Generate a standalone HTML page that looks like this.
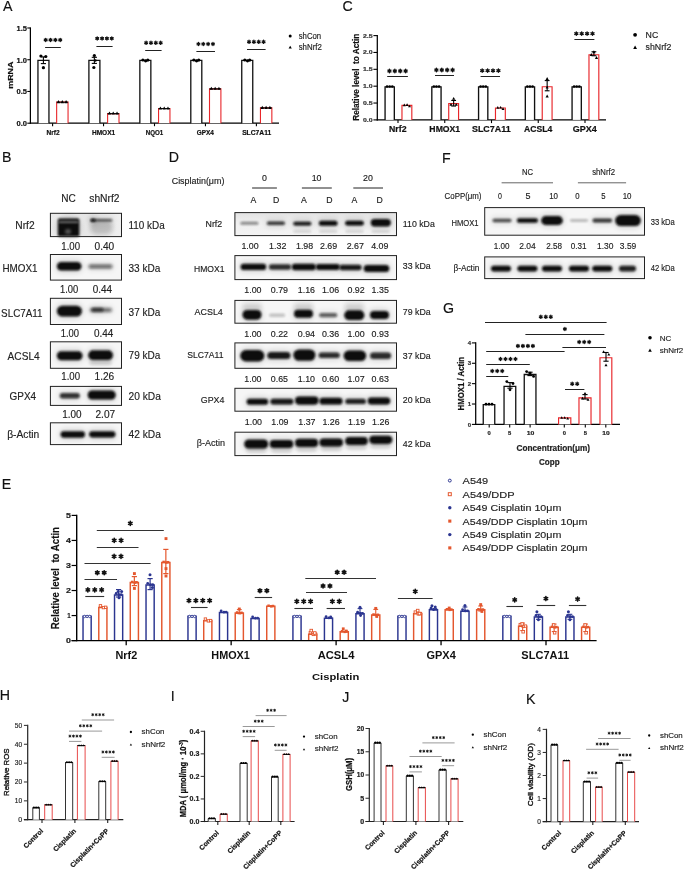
<!DOCTYPE html>
<html><head><meta charset="utf-8"><title>Figure</title>
<style>
html,body{margin:0;padding:0;background:#fff;}
body{width:685px;height:870px;overflow:hidden;}
svg text{white-space:pre;}
svg{display:block;will-change:transform;font-family:"Liberation Sans", sans-serif;}
</style></head><body>
<svg width="685" height="870" viewBox="0 0 685 870">
<defs>
<filter id="bl0_8" x="-30%" y="-80%" width="160%" height="260%"><feGaussianBlur stdDeviation="0.8"/></filter>
<filter id="bl0_9" x="-30%" y="-80%" width="160%" height="260%"><feGaussianBlur stdDeviation="0.9"/></filter>
<filter id="bl1_0" x="-30%" y="-80%" width="160%" height="260%"><feGaussianBlur stdDeviation="1.0"/></filter>
<filter id="bl1_2" x="-30%" y="-80%" width="160%" height="260%"><feGaussianBlur stdDeviation="1.2"/></filter>
<filter id="bl1_5" x="-30%" y="-80%" width="160%" height="260%"><feGaussianBlur stdDeviation="1.5"/></filter>
<filter id="bl1_1" x="-30%" y="-80%" width="160%" height="260%"><feGaussianBlur stdDeviation="1.1"/></filter>
<filter id="bl1_3" x="-30%" y="-80%" width="160%" height="260%"><feGaussianBlur stdDeviation="1.3"/></filter>
<filter id="bl1_4" x="-30%" y="-80%" width="160%" height="260%"><feGaussianBlur stdDeviation="1.4"/></filter>
<linearGradient id="gNrf" x1="0" y1="0" x2="0" y2="1"><stop offset="0" stop-color="#e2e2e2"/><stop offset="0.45" stop-color="#efefef"/><stop offset="1" stop-color="#f3f3f3"/></linearGradient>
<linearGradient id="gNrfB" x1="0" y1="0" x2="1" y2="0"><stop offset="0" stop-color="#ebebeb"/><stop offset="0.5" stop-color="#e6e6e6"/><stop offset="1" stop-color="#efefef"/></linearGradient>
<filter id="bl2_5" x="-50%" y="-100%" width="200%" height="300%"><feGaussianBlur stdDeviation="2.5"/></filter>
<filter id="bl2_0" x="-30%" y="-80%" width="160%" height="260%"><feGaussianBlur stdDeviation="2.0"/></filter>
</defs>
<rect width="685" height="870" fill="#fff"/>
<text x="3.1" y="10.7" font-size="14.2" fill="#111" stroke="#111" stroke-width="0.15">A</text>
<line x1="30.4" y1="27.4" x2="30.4" y2="123.8" stroke="#000" stroke-width="1.25"/>
<line x1="27.3" y1="123.2" x2="30.4" y2="123.2" stroke="#000" stroke-width="1.1"/>
<text x="16.52" y="126.1" font-size="7.8" font-weight="bold" fill="#111" textLength="10.46" lengthAdjust="spacingAndGlyphs" stroke="#111" stroke-width="0.2">0.0</text>
<line x1="27.3" y1="91.47" x2="30.4" y2="91.47" stroke="#000" stroke-width="1.1"/>
<text x="16.52" y="94.37" font-size="7.8" font-weight="bold" fill="#111" textLength="10.46" lengthAdjust="spacingAndGlyphs" stroke="#111" stroke-width="0.2">0.5</text>
<line x1="27.3" y1="59.73" x2="30.4" y2="59.73" stroke="#000" stroke-width="1.1"/>
<text x="16.52" y="62.63" font-size="7.8" font-weight="bold" fill="#111" textLength="10.46" lengthAdjust="spacingAndGlyphs" stroke="#111" stroke-width="0.2">1.0</text>
<line x1="27.3" y1="28" x2="30.4" y2="28" stroke="#000" stroke-width="1.1"/>
<text x="16.52" y="30.9" font-size="7.8" font-weight="bold" fill="#111" textLength="10.46" lengthAdjust="spacingAndGlyphs" stroke="#111" stroke-width="0.2">1.5</text>
<text x="13.4" y="75.15" font-size="7.7" font-weight="bold" text-anchor="middle" fill="#111" transform="rotate(-90 13.4 75.15)" textLength="27.3" lengthAdjust="spacingAndGlyphs" stroke="#111" stroke-width="0.2">mRNA</text>
<line x1="29.8" y1="123.2" x2="279" y2="123.2" stroke="#000" stroke-width="1.25"/>
<path d="M37.95 123.2V60.38H48.95V123.2" fill="#fff" stroke="#111" stroke-width="1.3"/>
<path d="M56.65 123.2V102.17H68.05V123.2" fill="#fff" stroke="#e8262a" stroke-width="1.1"/>
<line x1="56.6" y1="102.17" x2="68.1" y2="102.17" stroke="#111" stroke-width="1.1"/>
<line x1="52.6" y1="123.2" x2="52.6" y2="126.2" stroke="#000" stroke-width="1.1"/>
<text x="46.45" y="135.4" font-size="7" font-weight="bold" fill="#111" textLength="13.1" lengthAdjust="spacingAndGlyphs" stroke="#111" stroke-width="0.2">Nrf2</text>
<line x1="45.1" y1="47.5" x2="60.8" y2="47.5" stroke="#222" stroke-width="1"/>
<path d="M45.68 38.31L45.68 41.49M47.05 39.11L44.3 40.69M47.05 40.69L44.3 39.11" stroke="#111" stroke-width="1.31" stroke-linecap="round"/>
<path d="M50.53 38.31L50.53 41.49M51.9 39.11L49.15 40.69M51.9 40.69L49.15 39.11" stroke="#111" stroke-width="1.31" stroke-linecap="round"/>
<path d="M55.38 38.31L55.38 41.49M56.75 39.11L54 40.69M56.75 40.69L54 39.11" stroke="#111" stroke-width="1.31" stroke-linecap="round"/>
<path d="M60.23 38.31L60.23 41.49M61.6 39.11L58.85 40.69M61.6 40.69L58.85 39.11" stroke="#111" stroke-width="1.31" stroke-linecap="round"/>
<circle cx="40.9" cy="56" r="1.6" fill="#000"/>
<circle cx="45.8" cy="56.5" r="1.6" fill="#000"/>
<circle cx="43.4" cy="67.7" r="1.6" fill="#000"/>
<line x1="43.4" y1="56.9" x2="43.4" y2="63.6" stroke="#000" stroke-width="1.1"/>
<line x1="40.8" y1="56.9" x2="46" y2="56.9" stroke="#000" stroke-width="1.1"/>
<line x1="40.8" y1="63.6" x2="46" y2="63.6" stroke="#000" stroke-width="1.1"/>
<path d="M58.5 100.12L60.2 103.18L56.8 103.18Z" fill="#000"/>
<path d="M62.3 100.12L64 103.18L60.6 103.18Z" fill="#000"/>
<path d="M66.1 100.12L67.8 103.18L64.4 103.18Z" fill="#000"/>
<path d="M88.9 123.2V60.38H99.9V123.2" fill="#fff" stroke="#111" stroke-width="1.3"/>
<path d="M107.6 123.2V113.6H119V123.2" fill="#fff" stroke="#e8262a" stroke-width="1.1"/>
<line x1="107.55" y1="113.6" x2="119.05" y2="113.6" stroke="#111" stroke-width="1.1"/>
<line x1="103.55" y1="123.2" x2="103.55" y2="126.2" stroke="#000" stroke-width="1.1"/>
<text x="91.95" y="135.4" font-size="7" font-weight="bold" fill="#111" textLength="23.3" lengthAdjust="spacingAndGlyphs" stroke="#111" stroke-width="0.2">HMOX1</text>
<line x1="96.4" y1="46.5" x2="112.6" y2="46.5" stroke="#222" stroke-width="1"/>
<path d="M97.22 36.81L97.22 39.99M98.6 37.61L95.85 39.19M98.6 39.19L95.85 37.61" stroke="#111" stroke-width="1.31" stroke-linecap="round"/>
<path d="M102.07 36.81L102.07 39.99M103.45 37.61L100.7 39.19M103.45 39.19L100.7 37.61" stroke="#111" stroke-width="1.31" stroke-linecap="round"/>
<path d="M106.92 36.81L106.92 39.99M108.3 37.61L105.55 39.19M108.3 39.19L105.55 37.61" stroke="#111" stroke-width="1.31" stroke-linecap="round"/>
<path d="M111.77 36.81L111.77 39.99M113.15 37.61L110.4 39.19M113.15 39.19L110.4 37.61" stroke="#111" stroke-width="1.31" stroke-linecap="round"/>
<circle cx="94.35" cy="55.5" r="1.6" fill="#000"/>
<circle cx="93.85" cy="67.5" r="1.6" fill="#000"/>
<circle cx="95.35" cy="60.5" r="1.3" fill="#000"/>
<line x1="94.35" y1="57.3" x2="94.35" y2="63.4" stroke="#000" stroke-width="1.1"/>
<line x1="91.75" y1="57.3" x2="96.95" y2="57.3" stroke="#000" stroke-width="1.1"/>
<line x1="91.75" y1="63.4" x2="96.95" y2="63.4" stroke="#000" stroke-width="1.1"/>
<path d="M109.45 111.55L111.15 114.61L107.75 114.61Z" fill="#000"/>
<path d="M113.25 111.55L114.95 114.61L111.55 114.61Z" fill="#000"/>
<path d="M117.05 111.55L118.75 114.61L115.35 114.61Z" fill="#000"/>
<path d="M139.85 123.2V60.38H150.85V123.2" fill="#fff" stroke="#111" stroke-width="1.3"/>
<path d="M158.55 123.2V108.52H169.95V123.2" fill="#fff" stroke="#e8262a" stroke-width="1.1"/>
<line x1="158.5" y1="108.52" x2="170" y2="108.52" stroke="#111" stroke-width="1.1"/>
<line x1="154.5" y1="123.2" x2="154.5" y2="126.2" stroke="#000" stroke-width="1.1"/>
<text x="145.75" y="135.4" font-size="7" font-weight="bold" fill="#111" textLength="17.5" lengthAdjust="spacingAndGlyphs" stroke="#111" stroke-width="0.2">NQO1</text>
<line x1="145.2" y1="50.5" x2="161.6" y2="50.5" stroke="#222" stroke-width="1"/>
<path d="M146.12 41.21L146.12 44.39M147.5 42.01L144.75 43.59M147.5 43.59L144.75 42.01" stroke="#111" stroke-width="1.31" stroke-linecap="round"/>
<path d="M150.97 41.21L150.97 44.39M152.35 42.01L149.6 43.59M152.35 43.59L149.6 42.01" stroke="#111" stroke-width="1.31" stroke-linecap="round"/>
<path d="M155.82 41.21L155.82 44.39M157.2 42.01L154.45 43.59M157.2 43.59L154.45 42.01" stroke="#111" stroke-width="1.31" stroke-linecap="round"/>
<path d="M160.67 41.21L160.67 44.39M162.05 42.01L159.3 43.59M162.05 43.59L159.3 42.01" stroke="#111" stroke-width="1.31" stroke-linecap="round"/>
<circle cx="142.9" cy="60" r="1.6" fill="#000"/>
<circle cx="145.6" cy="60.8" r="1.6" fill="#000"/>
<circle cx="147.8" cy="60.1" r="1.6" fill="#000"/>
<path d="M160.4 106.47L162.1 109.53L158.7 109.53Z" fill="#000"/>
<path d="M164.2 106.47L165.9 109.53L162.5 109.53Z" fill="#000"/>
<path d="M168 106.47L169.7 109.53L166.3 109.53Z" fill="#000"/>
<path d="M190.8 123.2V60.38H201.8V123.2" fill="#fff" stroke="#111" stroke-width="1.3"/>
<path d="M209.5 123.2V88.84H220.9V123.2" fill="#fff" stroke="#e8262a" stroke-width="1.1"/>
<line x1="209.45" y1="88.84" x2="220.95" y2="88.84" stroke="#111" stroke-width="1.1"/>
<line x1="205.45" y1="123.2" x2="205.45" y2="126.2" stroke="#000" stroke-width="1.1"/>
<text x="196.75" y="135.4" font-size="7" font-weight="bold" fill="#111" textLength="17.1" lengthAdjust="spacingAndGlyphs" stroke="#111" stroke-width="0.2">GPX4</text>
<line x1="196.4" y1="51.5" x2="215" y2="51.5" stroke="#222" stroke-width="1"/>
<path d="M198.42 42.41L198.42 45.59M199.8 43.21L197.05 44.79M199.8 44.79L197.05 43.21" stroke="#111" stroke-width="1.31" stroke-linecap="round"/>
<path d="M203.27 42.41L203.27 45.59M204.65 43.21L201.9 44.79M204.65 44.79L201.9 43.21" stroke="#111" stroke-width="1.31" stroke-linecap="round"/>
<path d="M208.12 42.41L208.12 45.59M209.5 43.21L206.75 44.79M209.5 44.79L206.75 43.21" stroke="#111" stroke-width="1.31" stroke-linecap="round"/>
<path d="M212.97 42.41L212.97 45.59M214.35 43.21L211.6 44.79M214.35 44.79L211.6 43.21" stroke="#111" stroke-width="1.31" stroke-linecap="round"/>
<circle cx="193.85" cy="60" r="1.6" fill="#000"/>
<circle cx="196.55" cy="60.8" r="1.6" fill="#000"/>
<circle cx="198.75" cy="60.1" r="1.6" fill="#000"/>
<path d="M211.35 86.79L213.05 89.85L209.65 89.85Z" fill="#000"/>
<path d="M215.15 86.79L216.85 89.85L213.45 89.85Z" fill="#000"/>
<path d="M218.95 86.79L220.65 89.85L217.25 89.85Z" fill="#000"/>
<path d="M241.75 123.2V60.38H252.75V123.2" fill="#fff" stroke="#111" stroke-width="1.3"/>
<path d="M260.45 123.2V107.88H271.85V123.2" fill="#fff" stroke="#e8262a" stroke-width="1.1"/>
<line x1="260.4" y1="107.88" x2="271.9" y2="107.88" stroke="#111" stroke-width="1.1"/>
<line x1="256.4" y1="123.2" x2="256.4" y2="126.2" stroke="#000" stroke-width="1.1"/>
<text x="242.15" y="135.4" font-size="7" font-weight="bold" fill="#111" textLength="29.1" lengthAdjust="spacingAndGlyphs" stroke="#111" stroke-width="0.2">SLC7A11</text>
<line x1="247" y1="49.5" x2="265.6" y2="49.5" stroke="#222" stroke-width="1"/>
<path d="M249.03 40.21L249.03 43.39M250.4 41.01L247.65 42.59M250.4 42.59L247.65 41.01" stroke="#111" stroke-width="1.31" stroke-linecap="round"/>
<path d="M253.88 40.21L253.88 43.39M255.25 41.01L252.5 42.59M255.25 42.59L252.5 41.01" stroke="#111" stroke-width="1.31" stroke-linecap="round"/>
<path d="M258.73 40.21L258.73 43.39M260.1 41.01L257.35 42.59M260.1 42.59L257.35 41.01" stroke="#111" stroke-width="1.31" stroke-linecap="round"/>
<path d="M263.57 40.21L263.57 43.39M264.95 41.01L262.2 42.59M264.95 42.59L262.2 41.01" stroke="#111" stroke-width="1.31" stroke-linecap="round"/>
<circle cx="244.8" cy="60" r="1.6" fill="#000"/>
<circle cx="247.5" cy="60.8" r="1.6" fill="#000"/>
<circle cx="249.7" cy="60.1" r="1.6" fill="#000"/>
<path d="M262.3 105.83L264 108.89L260.6 108.89Z" fill="#000"/>
<path d="M266.1 105.83L267.8 108.89L264.4 108.89Z" fill="#000"/>
<path d="M269.9 105.83L271.6 108.89L268.2 108.89Z" fill="#000"/>
<circle cx="290.2" cy="35.9" r="1.5" fill="#000"/>
<text x="298.7" y="39" font-size="8.2" fill="#222" textLength="22.49" lengthAdjust="spacingAndGlyphs" stroke="#222" stroke-width="0.15">shCon</text>
<path d="M290.2 45.7L291.8 48.58L288.6 48.58Z" fill="#000"/>
<text x="298.7" y="49.9" font-size="8.2" fill="#222" textLength="23.19" lengthAdjust="spacingAndGlyphs" stroke="#222" stroke-width="0.15">shNrf2</text>
<text x="342.4" y="11.3" font-size="14.2" fill="#111" stroke="#111" stroke-width="0.15">C</text>
<line x1="377.3" y1="35" x2="377.3" y2="120.5" stroke="#000" stroke-width="1.25"/>
<line x1="373.4" y1="119.9" x2="377.3" y2="119.9" stroke="#000" stroke-width="1.1"/>
<text x="362.99" y="121.8" font-size="5.8" font-weight="bold" fill="#333" textLength="9.62" lengthAdjust="spacingAndGlyphs" stroke="#333" stroke-width="0.2">0.0</text>
<line x1="373.4" y1="103.04" x2="377.3" y2="103.04" stroke="#000" stroke-width="1.1"/>
<text x="362.99" y="104.94" font-size="5.8" font-weight="bold" fill="#333" textLength="9.62" lengthAdjust="spacingAndGlyphs" stroke="#333" stroke-width="0.2">0.5</text>
<line x1="373.4" y1="86.18" x2="377.3" y2="86.18" stroke="#000" stroke-width="1.1"/>
<text x="362.99" y="88.08" font-size="5.8" font-weight="bold" fill="#333" textLength="9.62" lengthAdjust="spacingAndGlyphs" stroke="#333" stroke-width="0.2">1.0</text>
<line x1="373.4" y1="69.32" x2="377.3" y2="69.32" stroke="#000" stroke-width="1.1"/>
<text x="362.99" y="71.22" font-size="5.8" font-weight="bold" fill="#333" textLength="9.62" lengthAdjust="spacingAndGlyphs" stroke="#333" stroke-width="0.2">1.5</text>
<line x1="373.4" y1="52.46" x2="377.3" y2="52.46" stroke="#000" stroke-width="1.1"/>
<text x="362.99" y="54.36" font-size="5.8" font-weight="bold" fill="#333" textLength="9.62" lengthAdjust="spacingAndGlyphs" stroke="#333" stroke-width="0.2">2.0</text>
<line x1="373.4" y1="35.6" x2="377.3" y2="35.6" stroke="#000" stroke-width="1.1"/>
<text x="362.99" y="37.5" font-size="5.8" font-weight="bold" fill="#333" textLength="9.62" lengthAdjust="spacingAndGlyphs" stroke="#333" stroke-width="0.2">2.5</text>
<text x="358.8" y="77.2" font-size="9.4" font-weight="bold" text-anchor="middle" fill="#111" transform="rotate(-90 358.8 77.2)" textLength="87.2" lengthAdjust="spacingAndGlyphs" stroke="#111" stroke-width="0.2">Relative level  to Actin</text>
<line x1="376.7" y1="119.9" x2="606" y2="119.9" stroke="#000" stroke-width="1.25"/>
<path d="M385.07 119.9V86.86H394.32V119.9" fill="#fff" stroke="#111" stroke-width="1.35"/>
<path d="M401.97 119.9V105.3H411.82V119.9" fill="#fff" stroke="#e8262a" stroke-width="1.15"/>
<line x1="398" y1="119.9" x2="398" y2="123.1" stroke="#000" stroke-width="1.1"/>
<text x="389.09" y="132.4" font-size="8.5" font-weight="bold" fill="#111" textLength="17.41" lengthAdjust="spacingAndGlyphs" stroke="#111" stroke-width="0.2">Nrf2</text>
<line x1="387.2" y1="76.5" x2="407.9" y2="76.5" stroke="#222" stroke-width="1"/>
<path d="M389.45 69.28L389.45 72.72M390.94 70.14L387.96 71.86M390.94 71.86L387.96 70.14" stroke="#111" stroke-width="1.42" stroke-linecap="round"/>
<path d="M394.85 69.28L394.85 72.72M396.34 70.14L393.36 71.86M396.34 71.86L393.36 70.14" stroke="#111" stroke-width="1.42" stroke-linecap="round"/>
<path d="M400.25 69.28L400.25 72.72M401.74 70.14L398.76 71.86M401.74 71.86L398.76 70.14" stroke="#111" stroke-width="1.42" stroke-linecap="round"/>
<path d="M405.65 69.28L405.65 72.72M407.14 70.14L404.16 71.86M407.14 71.86L404.16 70.14" stroke="#111" stroke-width="1.42" stroke-linecap="round"/>
<circle cx="387.1" cy="86.48" r="1.35" fill="#000"/>
<circle cx="389.7" cy="86.48" r="1.35" fill="#000"/>
<circle cx="392.3" cy="86.48" r="1.35" fill="#000"/>
<path d="M404.3 103.43L405.8 106.13L402.8 106.13Z" fill="#000"/>
<path d="M407.1 103.23L408.6 105.93L405.6 105.93Z" fill="#000"/>
<path d="M409.5 104.63L411 107.33L408 107.33Z" fill="#000"/>
<path d="M431.82 119.9V86.86H441.07V119.9" fill="#fff" stroke="#111" stroke-width="1.35"/>
<path d="M448.72 119.9V103.62H458.57V119.9" fill="#fff" stroke="#e8262a" stroke-width="1.15"/>
<line x1="444.75" y1="119.9" x2="444.75" y2="123.1" stroke="#000" stroke-width="1.1"/>
<text x="429.39" y="132.4" font-size="8.5" font-weight="bold" fill="#111" textLength="30.81" lengthAdjust="spacingAndGlyphs" stroke="#111" stroke-width="0.2">HMOX1</text>
<line x1="435" y1="75.5" x2="454" y2="75.5" stroke="#222" stroke-width="1"/>
<path d="M436.4 68.28L436.4 71.72M437.89 69.14L434.91 70.86M437.89 70.86L434.91 69.14" stroke="#111" stroke-width="1.42" stroke-linecap="round"/>
<path d="M441.8 68.28L441.8 71.72M443.29 69.14L440.31 70.86M443.29 70.86L440.31 69.14" stroke="#111" stroke-width="1.42" stroke-linecap="round"/>
<path d="M447.2 68.28L447.2 71.72M448.69 69.14L445.71 70.86M448.69 70.86L445.71 69.14" stroke="#111" stroke-width="1.42" stroke-linecap="round"/>
<path d="M452.6 68.28L452.6 71.72M454.09 69.14L451.11 70.86M454.09 70.86L451.11 69.14" stroke="#111" stroke-width="1.42" stroke-linecap="round"/>
<circle cx="433.85" cy="86.48" r="1.35" fill="#000"/>
<circle cx="436.45" cy="86.48" r="1.35" fill="#000"/>
<circle cx="439.05" cy="86.48" r="1.35" fill="#000"/>
<path d="M453.65 96.94L455.25 99.82L452.05 99.82Z" fill="#000"/>
<path d="M451.05 102.94L452.65 105.82L449.45 105.82Z" fill="#000"/>
<path d="M456.25 102.94L457.85 105.82L454.65 105.82Z" fill="#000"/>
<line x1="453.65" y1="100.44" x2="453.65" y2="106.04" stroke="#000" stroke-width="1.1"/>
<line x1="451.25" y1="100.44" x2="456.05" y2="100.44" stroke="#000" stroke-width="1.1"/>
<line x1="451.25" y1="106.04" x2="456.05" y2="106.04" stroke="#000" stroke-width="1.1"/>
<path d="M478.57 119.9V86.86H487.82V119.9" fill="#fff" stroke="#111" stroke-width="1.35"/>
<path d="M495.47 119.9V108H505.32V119.9" fill="#fff" stroke="#e8262a" stroke-width="1.15"/>
<line x1="491.5" y1="119.9" x2="491.5" y2="123.1" stroke="#000" stroke-width="1.1"/>
<text x="471.99" y="132.4" font-size="8.5" font-weight="bold" fill="#111" textLength="38.61" lengthAdjust="spacingAndGlyphs" stroke="#111" stroke-width="0.2">SLC7A11</text>
<line x1="480.6" y1="76.5" x2="500" y2="76.5" stroke="#222" stroke-width="1"/>
<path d="M482.2 68.88L482.2 72.32M483.69 69.74L480.71 71.46M483.69 71.46L480.71 69.74" stroke="#111" stroke-width="1.42" stroke-linecap="round"/>
<path d="M487.6 68.88L487.6 72.32M489.09 69.74L486.11 71.46M489.09 71.46L486.11 69.74" stroke="#111" stroke-width="1.42" stroke-linecap="round"/>
<path d="M493 68.88L493 72.32M494.49 69.74L491.51 71.46M494.49 71.46L491.51 69.74" stroke="#111" stroke-width="1.42" stroke-linecap="round"/>
<path d="M498.4 68.88L498.4 72.32M499.89 69.74L496.91 71.46M499.89 71.46L496.91 69.74" stroke="#111" stroke-width="1.42" stroke-linecap="round"/>
<circle cx="480.6" cy="86.48" r="1.35" fill="#000"/>
<circle cx="483.2" cy="86.48" r="1.35" fill="#000"/>
<circle cx="485.8" cy="86.48" r="1.35" fill="#000"/>
<path d="M497.8 106.12L499.3 108.82L496.3 108.82Z" fill="#000"/>
<path d="M500.6 105.92L502.1 108.62L499.1 108.62Z" fill="#000"/>
<path d="M503 107.32L504.5 110.02L501.5 110.02Z" fill="#000"/>
<path d="M525.32 119.9V86.86H534.58V119.9" fill="#fff" stroke="#111" stroke-width="1.35"/>
<path d="M542.23 119.9V86.76H552.07V119.9" fill="#fff" stroke="#e8262a" stroke-width="1.15"/>
<line x1="538.25" y1="119.9" x2="538.25" y2="123.1" stroke="#000" stroke-width="1.1"/>
<text x="524.09" y="132.4" font-size="8.5" font-weight="bold" fill="#111" textLength="28.11" lengthAdjust="spacingAndGlyphs" stroke="#111" stroke-width="0.2">ACSL4</text>
<circle cx="527.35" cy="86.48" r="1.35" fill="#000"/>
<circle cx="529.95" cy="86.48" r="1.35" fill="#000"/>
<circle cx="532.55" cy="86.48" r="1.35" fill="#000"/>
<path d="M547.15 77.08L548.75 79.96L545.55 79.96Z" fill="#000"/>
<path d="M547.15 94.58L548.75 97.46L545.55 97.46Z" fill="#000"/>
<path d="M547.15 85.68L548.65 88.38L545.65 88.38Z" fill="#000"/>
<line x1="547.15" y1="80.58" x2="547.15" y2="90.78" stroke="#000" stroke-width="1.1"/>
<line x1="544.75" y1="80.58" x2="549.55" y2="80.58" stroke="#000" stroke-width="1.1"/>
<line x1="544.75" y1="90.78" x2="549.55" y2="90.78" stroke="#000" stroke-width="1.1"/>
<path d="M572.07 119.9V86.86H581.33V119.9" fill="#fff" stroke="#111" stroke-width="1.35"/>
<path d="M588.98 119.9V54.72H598.82V119.9" fill="#fff" stroke="#e8262a" stroke-width="1.15"/>
<line x1="585" y1="119.9" x2="585" y2="123.1" stroke="#000" stroke-width="1.1"/>
<text x="572.79" y="132.4" font-size="8.5" font-weight="bold" fill="#111" textLength="24.11" lengthAdjust="spacingAndGlyphs" stroke="#111" stroke-width="0.2">GPX4</text>
<line x1="574.4" y1="39.5" x2="594.4" y2="39.5" stroke="#222" stroke-width="1"/>
<path d="M576.3 31.88L576.3 35.32M577.79 32.74L574.81 34.46M577.79 34.46L574.81 32.74" stroke="#111" stroke-width="1.42" stroke-linecap="round"/>
<path d="M581.7 31.88L581.7 35.32M583.19 32.74L580.21 34.46M583.19 34.46L580.21 32.74" stroke="#111" stroke-width="1.42" stroke-linecap="round"/>
<path d="M587.1 31.88L587.1 35.32M588.59 32.74L585.61 34.46M588.59 34.46L585.61 32.74" stroke="#111" stroke-width="1.42" stroke-linecap="round"/>
<path d="M592.5 31.88L592.5 35.32M593.99 32.74L591.01 34.46M593.99 34.46L591.01 32.74" stroke="#111" stroke-width="1.42" stroke-linecap="round"/>
<circle cx="574.1" cy="86.48" r="1.35" fill="#000"/>
<circle cx="576.7" cy="86.48" r="1.35" fill="#000"/>
<circle cx="579.3" cy="86.48" r="1.35" fill="#000"/>
<path d="M591.3 53.05L592.9 55.93L589.7 55.93Z" fill="#000"/>
<path d="M596.5 56.05L598.1 58.93L594.9 58.93Z" fill="#000"/>
<path d="M593.9 50.35L595.5 53.23L592.3 53.23Z" fill="#000"/>
<line x1="593.9" y1="51.75" x2="593.9" y2="55.75" stroke="#000" stroke-width="1.1"/>
<line x1="591.5" y1="51.75" x2="596.3" y2="51.75" stroke="#000" stroke-width="1.1"/>
<line x1="591.5" y1="55.75" x2="596.3" y2="55.75" stroke="#000" stroke-width="1.1"/>
<circle cx="635.1" cy="34.8" r="1.9" fill="#000"/>
<text x="645.6" y="37.7" font-size="8.3" fill="#222" textLength="12.6" lengthAdjust="spacingAndGlyphs" stroke="#222" stroke-width="0.15">NC</text>
<path d="M635.1 45.6L637 49.02L633.2 49.02Z" fill="#000"/>
<text x="645.59" y="49.9" font-size="8.5" fill="#222" textLength="25.81" lengthAdjust="spacingAndGlyphs" stroke="#222" stroke-width="0.15">shNrf2</text>
<text x="2" y="161.9" font-size="14.2" fill="#111" stroke="#111" stroke-width="0.15">B</text>
<text x="61.34" y="202.3" font-size="10" fill="#222" textLength="14.52" lengthAdjust="spacingAndGlyphs" stroke="#222" stroke-width="0.15">NC</text>
<text x="89.24" y="202.3" font-size="10" fill="#222" textLength="30.32" lengthAdjust="spacingAndGlyphs" stroke="#222" stroke-width="0.15">shNrf2</text>
<rect x="50.4" y="213.3" width="71.1" height="23.3" fill="url(#gNrfB)" stroke="none" stroke-width="1"/>
<rect x="55.85" y="215.4" width="25.5" height="24" rx="12" fill="#000" opacity="0.1" filter="url(#bl2_5)"/>
<rect x="57.85" y="218.4" width="21.5" height="18" rx="1.5" fill="#0a0a0a" opacity="1" filter="url(#bl1_0)"/>
<rect x="58.6" y="221.3" width="20" height="1.8" rx="0.9" fill="#fff" opacity="0.45" filter="url(#bl0_8)"/>
<rect x="65" y="229" width="6" height="5" rx="2.5" fill="#fff" opacity="0.3" filter="url(#bl1_5)"/>
<rect x="88.75" y="215.9" width="25.5" height="8.6" rx="4.3" fill="#000" opacity="0.07" filter="url(#bl2_5)"/>
<rect x="90.75" y="218.9" width="21.5" height="2.6" rx="1.3" fill="#0a0a0a" opacity="0.65" filter="url(#bl0_9)"/>
<rect x="88.5" y="215.7" width="9" height="9" rx="4.5" fill="#000" opacity="0.09" filter="url(#bl2_5)"/>
<rect x="90.5" y="218.7" width="5" height="3" rx="1.5" fill="#0a0a0a" opacity="0.9" filter="url(#bl0_8)"/>
<rect x="90" y="220.5" width="23" height="14" rx="7" fill="#0a0a0a" opacity="0.2" filter="url(#bl2_0)"/>
<rect x="50.4" y="213.3" width="71.1" height="23.3" fill="none" stroke="#222" stroke-width="1"/>
<text x="15.3" y="229.3" font-size="11" fill="#222" textLength="19.29" lengthAdjust="spacingAndGlyphs" stroke="#222" stroke-width="0.15">Nrf2</text>
<text x="128.5" y="228.8" font-size="11" fill="#222" textLength="36.19" lengthAdjust="spacingAndGlyphs" stroke="#222" stroke-width="0.15">110 kDa</text>
<text x="61.33" y="249.8" font-size="10.4" fill="#222" textLength="18.75" lengthAdjust="spacingAndGlyphs" stroke="#222" stroke-width="0.15">1.00</text>
<text x="94.53" y="249.8" font-size="10.4" fill="#222" textLength="19.75" lengthAdjust="spacingAndGlyphs" stroke="#222" stroke-width="0.15">0.40</text>
<rect x="50.4" y="254.5" width="71.1" height="25.6" fill="#f6f6f6" stroke="none" stroke-width="1"/>
<rect x="54.95" y="259" width="28.5" height="14.6" rx="7.3" fill="#000" opacity="0.1" filter="url(#bl2_5)"/>
<rect x="56.95" y="262" width="24.5" height="8.6" rx="4.3" fill="#0a0a0a" opacity="1" filter="url(#bl1_1)"/>
<rect x="86.5" y="261.6" width="28" height="10" rx="5" fill="#000" opacity="0.06" filter="url(#bl2_5)"/>
<rect x="88.5" y="264.6" width="24" height="4" rx="2" fill="#0a0a0a" opacity="0.6" filter="url(#bl1_4)"/>
<rect x="50.4" y="254.5" width="71.1" height="25.6" fill="none" stroke="#222" stroke-width="1"/>
<text x="2.5" y="271.8" font-size="11" fill="#222" textLength="35.09" lengthAdjust="spacingAndGlyphs" stroke="#222" stroke-width="0.15">HMOX1</text>
<text x="128.5" y="271.6" font-size="11" fill="#222" textLength="31.89" lengthAdjust="spacingAndGlyphs" stroke="#222" stroke-width="0.15">33 kDa</text>
<text x="59.93" y="292.6" font-size="10.4" fill="#222" textLength="18.25" lengthAdjust="spacingAndGlyphs" stroke="#222" stroke-width="0.15">1.00</text>
<text x="92.63" y="292.6" font-size="10.4" fill="#222" textLength="19.35" lengthAdjust="spacingAndGlyphs" stroke="#222" stroke-width="0.15">0.44</text>
<rect x="50.4" y="298.3" width="71.1" height="26.2" fill="#f6f6f6" stroke="none" stroke-width="1"/>
<rect x="54.9" y="302.7" width="29" height="16.8" rx="8.4" fill="#000" opacity="0.1" filter="url(#bl2_5)"/>
<rect x="56.9" y="305.7" width="25" height="10.8" rx="5.4" fill="#0a0a0a" opacity="1" filter="url(#bl1_1)"/>
<rect x="88" y="304.9" width="26" height="10.2" rx="5.1" fill="#000" opacity="0.06" filter="url(#bl2_5)"/>
<rect x="90" y="307.9" width="22" height="4.2" rx="2.1" fill="#0a0a0a" opacity="0.55" filter="url(#bl1_5)"/>
<rect x="89.5" y="304.8" width="16" height="10" rx="5" fill="#000" opacity="0.06" filter="url(#bl2_5)"/>
<rect x="91.5" y="307.8" width="12" height="4" rx="2" fill="#0a0a0a" opacity="0.6" filter="url(#bl1_2)"/>
<rect x="50.4" y="298.3" width="71.1" height="26.2" fill="none" stroke="#222" stroke-width="1"/>
<text x="1.1" y="316.9" font-size="11" fill="#222" textLength="41.39" lengthAdjust="spacingAndGlyphs" stroke="#222" stroke-width="0.15">SLC7A11</text>
<text x="128.6" y="315.8" font-size="11" fill="#222" textLength="31.79" lengthAdjust="spacingAndGlyphs" stroke="#222" stroke-width="0.15">37 kDa</text>
<text x="60.73" y="336.6" font-size="10.4" fill="#222" textLength="18.35" lengthAdjust="spacingAndGlyphs" stroke="#222" stroke-width="0.15">1.00</text>
<text x="93.93" y="336.6" font-size="10.4" fill="#222" textLength="19.35" lengthAdjust="spacingAndGlyphs" stroke="#222" stroke-width="0.15">0.44</text>
<rect x="50.4" y="341.8" width="71.1" height="26.5" fill="#f6f6f6" stroke="none" stroke-width="1"/>
<rect x="54.9" y="348.2" width="29.6" height="15" rx="7.5" fill="#000" opacity="0.1" filter="url(#bl2_5)"/>
<rect x="56.9" y="351.2" width="25.6" height="9" rx="4.5" fill="#0a0a0a" opacity="1" filter="url(#bl1_1)"/>
<rect x="86.25" y="347.3" width="28.7" height="15.8" rx="7.9" fill="#000" opacity="0.1" filter="url(#bl2_5)"/>
<rect x="88.25" y="350.3" width="24.7" height="9.8" rx="4.9" fill="#0a0a0a" opacity="1" filter="url(#bl1_1)"/>
<rect x="89.6" y="360" width="22" height="5" rx="2.5" fill="#0a0a0a" opacity="0.15" filter="url(#bl1_5)"/>
<rect x="50.4" y="341.8" width="71.1" height="26.5" fill="none" stroke="#222" stroke-width="1"/>
<text x="7.6" y="360" font-size="11" fill="#222" textLength="32.09" lengthAdjust="spacingAndGlyphs" stroke="#222" stroke-width="0.15">ACSL4</text>
<text x="128.6" y="359" font-size="11" fill="#222" textLength="31.79" lengthAdjust="spacingAndGlyphs" stroke="#222" stroke-width="0.15">79 kDa</text>
<text x="61.33" y="380.3" font-size="10.4" fill="#222" textLength="18.75" lengthAdjust="spacingAndGlyphs" stroke="#222" stroke-width="0.15">1.00</text>
<text x="94.53" y="380.3" font-size="10.4" fill="#222" textLength="19.75" lengthAdjust="spacingAndGlyphs" stroke="#222" stroke-width="0.15">1.26</text>
<rect x="50.4" y="386.4" width="71.1" height="19" fill="#f6f6f6" stroke="none" stroke-width="1"/>
<rect x="57.8" y="390.1" width="24" height="11.4" rx="5.7" fill="#000" opacity="0.08" filter="url(#bl2_5)"/>
<rect x="59.8" y="393.1" width="20" height="5.4" rx="2.7" fill="#0a0a0a" opacity="0.82" filter="url(#bl1_3)"/>
<rect x="85.7" y="387.55" width="32" height="14.9" rx="7.45" fill="#000" opacity="0.1" filter="url(#bl2_5)"/>
<rect x="87.7" y="390.55" width="28" height="8.9" rx="4.45" fill="#0a0a0a" opacity="1" filter="url(#bl1_1)"/>
<rect x="50.4" y="386.4" width="71.1" height="19" fill="none" stroke="#222" stroke-width="1"/>
<text x="9.5" y="400" font-size="11" fill="#222" textLength="26.59" lengthAdjust="spacingAndGlyphs" stroke="#222" stroke-width="0.15">GPX4</text>
<text x="128.6" y="399.6" font-size="11" fill="#222" textLength="32.29" lengthAdjust="spacingAndGlyphs" stroke="#222" stroke-width="0.15">20 kDa</text>
<text x="62.23" y="417.7" font-size="10.4" fill="#222" textLength="19.35" lengthAdjust="spacingAndGlyphs" stroke="#222" stroke-width="0.15">1.00</text>
<text x="95.43" y="417.7" font-size="10.4" fill="#222" textLength="19.75" lengthAdjust="spacingAndGlyphs" stroke="#222" stroke-width="0.15">2.07</text>
<rect x="50.4" y="422.8" width="71.1" height="21.8" fill="#f6f6f6" stroke="none" stroke-width="1"/>
<rect x="58.65" y="428.35" width="28.3" height="12.3" rx="6.15" fill="#000" opacity="0.1" filter="url(#bl2_5)"/>
<rect x="60.65" y="431.35" width="24.3" height="6.3" rx="3.15" fill="#0a0a0a" opacity="1" filter="url(#bl1_0)"/>
<rect x="87.2" y="428.15" width="30.2" height="12.3" rx="6.15" fill="#000" opacity="0.1" filter="url(#bl2_5)"/>
<rect x="89.2" y="431.15" width="26.2" height="6.3" rx="3.15" fill="#0a0a0a" opacity="1" filter="url(#bl1_0)"/>
<rect x="50.4" y="422.8" width="71.1" height="21.8" fill="none" stroke="#222" stroke-width="1"/>
<text x="7.2" y="438.2" font-size="11" fill="#222" textLength="32.09" lengthAdjust="spacingAndGlyphs" stroke="#222" stroke-width="0.15">β-Actin</text>
<text x="128.6" y="437.8" font-size="11" fill="#222" textLength="32.29" lengthAdjust="spacingAndGlyphs" stroke="#222" stroke-width="0.15">42 kDa</text>
<text x="168.8" y="161.9" font-size="14.2" fill="#111" stroke="#111" stroke-width="0.15">D</text>
<text x="171.69" y="183.9" font-size="8.7" fill="#222" textLength="52.73" lengthAdjust="spacingAndGlyphs" stroke="#222" stroke-width="0.15">Cisplatin(μm)</text>
<text x="264.5" y="181.3" font-size="8.8" text-anchor="middle" fill="#222" stroke="#222" stroke-width="0.15">0</text>
<line x1="252.1" y1="188" x2="276.9" y2="188" stroke="#222" stroke-width="1"/>
<text x="316.6" y="181.3" font-size="8.8" text-anchor="middle" fill="#222" stroke="#222" stroke-width="0.15">10</text>
<line x1="301.9" y1="188" x2="331.8" y2="188" stroke="#222" stroke-width="1"/>
<text x="368" y="181.3" font-size="8.8" text-anchor="middle" fill="#222" stroke="#222" stroke-width="0.15">20</text>
<line x1="353.3" y1="188" x2="383" y2="188" stroke="#222" stroke-width="1"/>
<text x="253.4" y="203.4" font-size="8.7" text-anchor="middle" fill="#222" stroke="#222" stroke-width="0.15">A</text>
<text x="276.2" y="203.4" font-size="8.7" text-anchor="middle" fill="#222" stroke="#222" stroke-width="0.15">D</text>
<text x="303.8" y="203.4" font-size="8.7" text-anchor="middle" fill="#222" stroke="#222" stroke-width="0.15">A</text>
<text x="329.5" y="203.4" font-size="8.7" text-anchor="middle" fill="#222" stroke="#222" stroke-width="0.15">D</text>
<text x="354.5" y="203.4" font-size="8.7" text-anchor="middle" fill="#222" stroke="#222" stroke-width="0.15">A</text>
<text x="379.7" y="203.4" font-size="8.7" text-anchor="middle" fill="#222" stroke="#222" stroke-width="0.15">D</text>
<rect x="234.9" y="212.6" width="161.6" height="23" fill="url(#gNrf)" stroke="none" stroke-width="1"/>
<rect x="293.3" y="230.2" width="18" height="2.6" rx="1.3" fill="#0a0a0a" opacity="0.13" filter="url(#bl1_2)"/>
<rect x="319.2" y="230.2" width="18" height="2.6" rx="1.3" fill="#0a0a0a" opacity="0.13" filter="url(#bl1_2)"/>
<rect x="345.5" y="230.2" width="18" height="2.6" rx="1.3" fill="#0a0a0a" opacity="0.13" filter="url(#bl1_2)"/>
<rect x="371.8" y="230.2" width="18" height="2.6" rx="1.3" fill="#0a0a0a" opacity="0.13" filter="url(#bl1_2)"/>
<rect x="240.4" y="221.7" width="18" height="3" rx="1.5" fill="#0a0a0a" opacity="0.45" filter="url(#bl0_9)"/>
<rect x="264.9" y="218.5" width="22" height="9.4" rx="4.7" fill="#000" opacity="0.08" filter="url(#bl2_5)"/>
<rect x="266.9" y="221.5" width="18" height="3.4" rx="1.7" fill="#0a0a0a" opacity="0.8" filter="url(#bl0_9)"/>
<rect x="291.3" y="218.7" width="22" height="9.8" rx="4.9" fill="#000" opacity="0.1" filter="url(#bl2_5)"/>
<rect x="293.3" y="221.7" width="18" height="3.8" rx="1.9" fill="#0a0a0a" opacity="0.95" filter="url(#bl0_9)"/>
<rect x="316.9" y="217.7" width="22.6" height="11" rx="5.5" fill="#000" opacity="0.1" filter="url(#bl2_5)"/>
<rect x="318.9" y="220.7" width="18.6" height="5" rx="2.5" fill="#0a0a0a" opacity="1" filter="url(#bl0_9)"/>
<rect x="343.2" y="217.8" width="22.6" height="10.8" rx="5.4" fill="#000" opacity="0.1" filter="url(#bl2_5)"/>
<rect x="345.2" y="220.8" width="18.6" height="4.8" rx="2.4" fill="#0a0a0a" opacity="1" filter="url(#bl0_9)"/>
<rect x="368.8" y="216" width="24" height="13.4" rx="6.7" fill="#000" opacity="0.1" filter="url(#bl2_5)"/>
<rect x="370.8" y="219" width="20" height="7.4" rx="3.7" fill="#0a0a0a" opacity="1" filter="url(#bl0_9)"/>
<rect x="234.9" y="212.6" width="161.6" height="23" fill="none" stroke="#222" stroke-width="1"/>
<text x="205.57" y="227.2" font-size="9.2" fill="#222" textLength="16.66" lengthAdjust="spacingAndGlyphs" stroke="#222" stroke-width="0.15">Nrf2</text>
<text x="402.87" y="227" font-size="9.2" fill="#222" textLength="31.96" lengthAdjust="spacingAndGlyphs" stroke="#222" stroke-width="0.15">110 kDa</text>
<text x="241.38" y="248.8" font-size="9" fill="#222" textLength="17.25" lengthAdjust="spacingAndGlyphs" stroke="#222" stroke-width="0.15">1.00</text>
<text x="269.08" y="248.8" font-size="9" fill="#222" textLength="17.25" lengthAdjust="spacingAndGlyphs" stroke="#222" stroke-width="0.15">1.32</text>
<text x="295.98" y="248.8" font-size="9" fill="#222" textLength="17.25" lengthAdjust="spacingAndGlyphs" stroke="#222" stroke-width="0.15">1.98</text>
<text x="319.98" y="248.8" font-size="9" fill="#222" textLength="17.25" lengthAdjust="spacingAndGlyphs" stroke="#222" stroke-width="0.15">2.69</text>
<text x="346.68" y="248.8" font-size="9" fill="#222" textLength="17.25" lengthAdjust="spacingAndGlyphs" stroke="#222" stroke-width="0.15">2.67</text>
<text x="371.18" y="248.8" font-size="9" fill="#222" textLength="17.25" lengthAdjust="spacingAndGlyphs" stroke="#222" stroke-width="0.15">4.09</text>
<rect x="234.9" y="255.6" width="161.6" height="24" fill="#f6f6f6" stroke="none" stroke-width="1"/>
<rect x="238.65" y="260.8" width="29.5" height="12.2" rx="6.1" fill="#000" opacity="0.1" filter="url(#bl2_5)"/>
<rect x="240.65" y="263.8" width="25.5" height="6.2" rx="3.1" fill="#0a0a0a" opacity="1" filter="url(#bl0_9)"/>
<rect x="267" y="261.3" width="26" height="11.4" rx="5.7" fill="#000" opacity="0.09" filter="url(#bl2_5)"/>
<rect x="269" y="264.3" width="22" height="5.4" rx="2.7" fill="#0a0a0a" opacity="0.85" filter="url(#bl0_9)"/>
<rect x="289.8" y="260.8" width="28" height="12.4" rx="6.2" fill="#000" opacity="0.1" filter="url(#bl2_5)"/>
<rect x="291.8" y="263.8" width="24" height="6.4" rx="3.2" fill="#0a0a0a" opacity="1" filter="url(#bl0_9)"/>
<rect x="313.8" y="261" width="28" height="12" rx="6" fill="#000" opacity="0.1" filter="url(#bl2_5)"/>
<rect x="315.8" y="264" width="24" height="6" rx="3" fill="#0a0a0a" opacity="1" filter="url(#bl0_9)"/>
<rect x="337.5" y="261.8" width="26" height="11.4" rx="5.7" fill="#000" opacity="0.1" filter="url(#bl2_5)"/>
<rect x="339.5" y="264.8" width="22" height="5.4" rx="2.7" fill="#0a0a0a" opacity="0.95" filter="url(#bl0_9)"/>
<rect x="361.75" y="261.9" width="29.5" height="13" rx="6.5" fill="#000" opacity="0.1" filter="url(#bl2_5)"/>
<rect x="363.75" y="264.9" width="25.5" height="7" rx="3.5" fill="#0a0a0a" opacity="1" filter="url(#bl0_9)"/>
<rect x="234.9" y="255.6" width="161.6" height="24" fill="none" stroke="#222" stroke-width="1"/>
<text x="193.97" y="272.2" font-size="9.2" fill="#222" textLength="30.46" lengthAdjust="spacingAndGlyphs" stroke="#222" stroke-width="0.15">HMOX1</text>
<text x="402.87" y="269.4" font-size="9.2" fill="#222" textLength="27.86" lengthAdjust="spacingAndGlyphs" stroke="#222" stroke-width="0.15">33 kDa</text>
<text x="244.28" y="293.3" font-size="9" fill="#222" textLength="17.25" lengthAdjust="spacingAndGlyphs" stroke="#222" stroke-width="0.15">1.00</text>
<text x="270.78" y="293.3" font-size="9" fill="#222" textLength="17.25" lengthAdjust="spacingAndGlyphs" stroke="#222" stroke-width="0.15">0.79</text>
<text x="297.78" y="293.3" font-size="9" fill="#222" textLength="17.25" lengthAdjust="spacingAndGlyphs" stroke="#222" stroke-width="0.15">1.16</text>
<text x="321.88" y="293.3" font-size="9" fill="#222" textLength="17.25" lengthAdjust="spacingAndGlyphs" stroke="#222" stroke-width="0.15">1.06</text>
<text x="347.48" y="293.3" font-size="9" fill="#222" textLength="17.25" lengthAdjust="spacingAndGlyphs" stroke="#222" stroke-width="0.15">0.92</text>
<text x="371.58" y="293.3" font-size="9" fill="#222" textLength="17.25" lengthAdjust="spacingAndGlyphs" stroke="#222" stroke-width="0.15">1.35</text>
<rect x="234.9" y="300.4" width="161.6" height="22.8" fill="#f6f6f6" stroke="none" stroke-width="1"/>
<rect x="242" y="302.5" width="20" height="8" rx="4" fill="#0a0a0a" opacity="0.12" filter="url(#bl2_0)"/>
<rect x="293.5" y="302.5" width="20" height="8" rx="4" fill="#0a0a0a" opacity="0.12" filter="url(#bl2_0)"/>
<rect x="344.3" y="302.5" width="20" height="8" rx="4" fill="#0a0a0a" opacity="0.12" filter="url(#bl2_0)"/>
<rect x="240.5" y="306.9" width="23" height="15.8" rx="7.9" fill="#000" opacity="0.1" filter="url(#bl2_5)"/>
<rect x="242.5" y="309.9" width="19" height="9.8" rx="4.9" fill="#0a0a0a" opacity="1" filter="url(#bl0_9)"/>
<rect x="269.1" y="313.5" width="16" height="3.4" rx="1.7" fill="#0a0a0a" opacity="0.22" filter="url(#bl0_9)"/>
<rect x="292" y="306.8" width="23" height="14" rx="7" fill="#000" opacity="0.1" filter="url(#bl2_5)"/>
<rect x="294" y="309.8" width="19" height="8" rx="4" fill="#0a0a0a" opacity="1" filter="url(#bl0_9)"/>
<rect x="317.2" y="310.1" width="22" height="10.2" rx="5.1" fill="#000" opacity="0.06" filter="url(#bl2_5)"/>
<rect x="319.2" y="313.1" width="18" height="4.2" rx="2.1" fill="#0a0a0a" opacity="0.62" filter="url(#bl0_9)"/>
<rect x="342.3" y="307.3" width="24" height="15.8" rx="7.9" fill="#000" opacity="0.1" filter="url(#bl2_5)"/>
<rect x="344.3" y="310.3" width="20" height="9.8" rx="4.9" fill="#0a0a0a" opacity="1" filter="url(#bl0_9)"/>
<rect x="368" y="308.1" width="23" height="14" rx="7" fill="#000" opacity="0.1" filter="url(#bl2_5)"/>
<rect x="370" y="311.1" width="19" height="8" rx="4" fill="#0a0a0a" opacity="1" filter="url(#bl0_9)"/>
<rect x="234.9" y="300.4" width="161.6" height="22.8" fill="none" stroke="#222" stroke-width="1"/>
<text x="194.57" y="315.2" font-size="9.2" fill="#222" textLength="28.26" lengthAdjust="spacingAndGlyphs" stroke="#222" stroke-width="0.15">ACSL4</text>
<text x="402.87" y="314.7" font-size="9.2" fill="#222" textLength="27.86" lengthAdjust="spacingAndGlyphs" stroke="#222" stroke-width="0.15">79 kDa</text>
<text x="244.28" y="336.6" font-size="9" fill="#222" textLength="17.25" lengthAdjust="spacingAndGlyphs" stroke="#222" stroke-width="0.15">1.00</text>
<text x="270.78" y="336.6" font-size="9" fill="#222" textLength="17.25" lengthAdjust="spacingAndGlyphs" stroke="#222" stroke-width="0.15">0.22</text>
<text x="297.78" y="336.6" font-size="9" fill="#222" textLength="17.25" lengthAdjust="spacingAndGlyphs" stroke="#222" stroke-width="0.15">0.94</text>
<text x="321.88" y="336.6" font-size="9" fill="#222" textLength="17.25" lengthAdjust="spacingAndGlyphs" stroke="#222" stroke-width="0.15">0.36</text>
<text x="347.48" y="336.6" font-size="9" fill="#222" textLength="17.25" lengthAdjust="spacingAndGlyphs" stroke="#222" stroke-width="0.15">1.00</text>
<text x="371.58" y="336.6" font-size="9" fill="#222" textLength="17.25" lengthAdjust="spacingAndGlyphs" stroke="#222" stroke-width="0.15">0.93</text>
<rect x="234.9" y="342.9" width="161.6" height="25.4" fill="#f6f6f6" stroke="none" stroke-width="1"/>
<rect x="238.3" y="347.1" width="28" height="17.4" rx="8.7" fill="#000" opacity="0.1" filter="url(#bl2_5)"/>
<rect x="240.3" y="350.1" width="24" height="11.4" rx="5.7" fill="#0a0a0a" opacity="1" filter="url(#bl0_9)"/>
<rect x="265.4" y="348.9" width="27" height="13.2" rx="6.6" fill="#000" opacity="0.1" filter="url(#bl2_5)"/>
<rect x="267.4" y="351.9" width="23" height="7.2" rx="3.6" fill="#0a0a0a" opacity="0.95" filter="url(#bl0_9)"/>
<rect x="291.4" y="346.4" width="26" height="17.4" rx="8.7" fill="#000" opacity="0.1" filter="url(#bl2_5)"/>
<rect x="293.4" y="349.4" width="22" height="11.4" rx="5.7" fill="#0a0a0a" opacity="1" filter="url(#bl0_9)"/>
<rect x="316.7" y="349.5" width="25" height="11.6" rx="5.8" fill="#000" opacity="0.09" filter="url(#bl2_5)"/>
<rect x="318.7" y="352.5" width="21" height="5.6" rx="2.8" fill="#0a0a0a" opacity="0.85" filter="url(#bl0_9)"/>
<rect x="341.65" y="347.5" width="26.5" height="16.4" rx="8.2" fill="#000" opacity="0.1" filter="url(#bl2_5)"/>
<rect x="343.65" y="350.5" width="22.5" height="10.4" rx="5.2" fill="#0a0a0a" opacity="1" filter="url(#bl0_9)"/>
<rect x="368.1" y="349.5" width="25" height="12.6" rx="6.3" fill="#000" opacity="0.09" filter="url(#bl2_5)"/>
<rect x="370.1" y="352.5" width="21" height="6.6" rx="3.3" fill="#0a0a0a" opacity="0.85" filter="url(#bl0_9)"/>
<rect x="234.9" y="342.9" width="161.6" height="25.4" fill="none" stroke="#222" stroke-width="1"/>
<text x="187.27" y="358" font-size="9.2" fill="#222" textLength="36.26" lengthAdjust="spacingAndGlyphs" stroke="#222" stroke-width="0.15">SLC7A11</text>
<text x="402.87" y="358.6" font-size="9.2" fill="#222" textLength="27.86" lengthAdjust="spacingAndGlyphs" stroke="#222" stroke-width="0.15">37 kDa</text>
<text x="244.28" y="381.5" font-size="9" fill="#222" textLength="17.25" lengthAdjust="spacingAndGlyphs" stroke="#222" stroke-width="0.15">1.00</text>
<text x="270.78" y="381.5" font-size="9" fill="#222" textLength="17.25" lengthAdjust="spacingAndGlyphs" stroke="#222" stroke-width="0.15">0.65</text>
<text x="297.78" y="381.5" font-size="9" fill="#222" textLength="17.25" lengthAdjust="spacingAndGlyphs" stroke="#222" stroke-width="0.15">1.10</text>
<text x="321.88" y="381.5" font-size="9" fill="#222" textLength="17.25" lengthAdjust="spacingAndGlyphs" stroke="#222" stroke-width="0.15">0.60</text>
<text x="347.48" y="381.5" font-size="9" fill="#222" textLength="17.25" lengthAdjust="spacingAndGlyphs" stroke="#222" stroke-width="0.15">1.07</text>
<text x="371.58" y="381.5" font-size="9" fill="#222" textLength="17.25" lengthAdjust="spacingAndGlyphs" stroke="#222" stroke-width="0.15">0.63</text>
<rect x="234.9" y="388.3" width="161.6" height="22.9" fill="#f6f6f6" stroke="none" stroke-width="1"/>
<rect x="244.65" y="395.8" width="25.5" height="12" rx="6" fill="#000" opacity="0.1" filter="url(#bl2_5)"/>
<rect x="246.65" y="398.8" width="21.5" height="6" rx="3" fill="#0a0a0a" opacity="1" filter="url(#bl0_9)"/>
<rect x="268.4" y="395.7" width="27" height="11.8" rx="5.9" fill="#000" opacity="0.1" filter="url(#bl2_5)"/>
<rect x="270.4" y="398.7" width="23" height="5.8" rx="2.9" fill="#0a0a0a" opacity="0.95" filter="url(#bl0_9)"/>
<rect x="293.05" y="393.5" width="27.5" height="14.2" rx="7.1" fill="#000" opacity="0.1" filter="url(#bl2_5)"/>
<rect x="295.05" y="396.5" width="23.5" height="8.2" rx="4.1" fill="#0a0a0a" opacity="1" filter="url(#bl0_9)"/>
<rect x="317.5" y="394.8" width="27" height="12.8" rx="6.4" fill="#000" opacity="0.1" filter="url(#bl2_5)"/>
<rect x="319.5" y="397.8" width="23" height="6.8" rx="3.4" fill="#0a0a0a" opacity="1" filter="url(#bl0_9)"/>
<rect x="343.35" y="395.7" width="24.5" height="11.4" rx="5.7" fill="#000" opacity="0.09" filter="url(#bl2_5)"/>
<rect x="345.35" y="398.7" width="20.5" height="5.4" rx="2.7" fill="#0a0a0a" opacity="0.9" filter="url(#bl0_9)"/>
<rect x="365.75" y="394.6" width="26.5" height="12.8" rx="6.4" fill="#000" opacity="0.1" filter="url(#bl2_5)"/>
<rect x="367.75" y="397.6" width="22.5" height="6.8" rx="3.4" fill="#0a0a0a" opacity="1" filter="url(#bl0_9)"/>
<rect x="234.9" y="388.3" width="161.6" height="22.9" fill="none" stroke="#222" stroke-width="1"/>
<text x="200.77" y="403.3" font-size="9.2" fill="#222" textLength="23.66" lengthAdjust="spacingAndGlyphs" stroke="#222" stroke-width="0.15">GPX4</text>
<text x="402.87" y="402.5" font-size="9.2" fill="#222" textLength="27.86" lengthAdjust="spacingAndGlyphs" stroke="#222" stroke-width="0.15">20 kDa</text>
<text x="244.78" y="425.3" font-size="9" fill="#222" textLength="17.25" lengthAdjust="spacingAndGlyphs" stroke="#222" stroke-width="0.15">1.00</text>
<text x="271.28" y="425.3" font-size="9" fill="#222" textLength="17.25" lengthAdjust="spacingAndGlyphs" stroke="#222" stroke-width="0.15">1.09</text>
<text x="298.28" y="425.3" font-size="9" fill="#222" textLength="17.25" lengthAdjust="spacingAndGlyphs" stroke="#222" stroke-width="0.15">1.37</text>
<text x="322.38" y="425.3" font-size="9" fill="#222" textLength="17.25" lengthAdjust="spacingAndGlyphs" stroke="#222" stroke-width="0.15">1.26</text>
<text x="347.98" y="425.3" font-size="9" fill="#222" textLength="17.25" lengthAdjust="spacingAndGlyphs" stroke="#222" stroke-width="0.15">1.19</text>
<text x="372.08" y="425.3" font-size="9" fill="#222" textLength="17.25" lengthAdjust="spacingAndGlyphs" stroke="#222" stroke-width="0.15">1.26</text>
<rect x="234.9" y="432.2" width="161.6" height="23.4" fill="#f6f6f6" stroke="none" stroke-width="1"/>
<rect x="246.2" y="447.5" width="20" height="5" rx="2.5" fill="#0a0a0a" opacity="0.12" filter="url(#bl1_5)"/>
<rect x="271.5" y="447.5" width="20" height="5" rx="2.5" fill="#0a0a0a" opacity="0.12" filter="url(#bl1_5)"/>
<rect x="296.6" y="446.4" width="20" height="5" rx="2.5" fill="#0a0a0a" opacity="0.12" filter="url(#bl1_5)"/>
<rect x="321.2" y="446" width="20" height="5" rx="2.5" fill="#0a0a0a" opacity="0.12" filter="url(#bl1_5)"/>
<rect x="346.5" y="444.5" width="20" height="5" rx="2.5" fill="#0a0a0a" opacity="0.12" filter="url(#bl1_5)"/>
<rect x="370.8" y="443.3" width="20" height="5" rx="2.5" fill="#0a0a0a" opacity="0.12" filter="url(#bl1_5)"/>
<rect x="242.2" y="436.5" width="28" height="15" rx="7.5" fill="#000" opacity="0.1" filter="url(#bl2_5)"/>
<rect x="244.2" y="439.5" width="24" height="9" rx="4.5" fill="#0a0a0a" opacity="1" filter="url(#bl0_9)"/>
<rect x="267.75" y="437.1" width="27.5" height="13.8" rx="6.9" fill="#000" opacity="0.1" filter="url(#bl2_5)"/>
<rect x="269.75" y="440.1" width="23.5" height="7.8" rx="3.9" fill="#0a0a0a" opacity="1" filter="url(#bl0_9)"/>
<rect x="293.1" y="435.8" width="27" height="14.2" rx="7.1" fill="#000" opacity="0.1" filter="url(#bl2_5)"/>
<rect x="295.1" y="438.8" width="23" height="8.2" rx="4.1" fill="#0a0a0a" opacity="1" filter="url(#bl0_9)"/>
<rect x="317.45" y="435.4" width="27.5" height="14.2" rx="7.1" fill="#000" opacity="0.1" filter="url(#bl2_5)"/>
<rect x="319.45" y="438.4" width="23.5" height="8.2" rx="4.1" fill="#0a0a0a" opacity="1" filter="url(#bl0_9)"/>
<rect x="343.25" y="434" width="26.5" height="14" rx="7" fill="#000" opacity="0.1" filter="url(#bl2_5)"/>
<rect x="345.25" y="437" width="22.5" height="8" rx="4" fill="#0a0a0a" opacity="1" filter="url(#bl0_9)"/>
<rect x="367.3" y="432.7" width="27" height="14.2" rx="7.1" fill="#000" opacity="0.1" filter="url(#bl2_5)"/>
<rect x="369.3" y="435.7" width="23" height="8.2" rx="4.1" fill="#0a0a0a" opacity="1" filter="url(#bl0_9)"/>
<rect x="234.9" y="432.2" width="161.6" height="23.4" fill="none" stroke="#222" stroke-width="1"/>
<text x="196.87" y="446.3" font-size="9.2" fill="#222" textLength="28.26" lengthAdjust="spacingAndGlyphs" stroke="#222" stroke-width="0.15">β-Actin</text>
<text x="402.87" y="447.3" font-size="9.2" fill="#222" textLength="27.86" lengthAdjust="spacingAndGlyphs" stroke="#222" stroke-width="0.15">42 kDa</text>
<text x="442" y="162.7" font-size="14.2" fill="#111" stroke="#111" stroke-width="0.15">F</text>
<text x="521.98" y="174.9" font-size="8.8" fill="#222" textLength="11.13" lengthAdjust="spacingAndGlyphs" stroke="#222" stroke-width="0.15">NC</text>
<line x1="501.6" y1="182.8" x2="553" y2="182.8" stroke="#666" stroke-width="1"/>
<text x="592.18" y="175" font-size="8.8" fill="#222" textLength="22.83" lengthAdjust="spacingAndGlyphs" stroke="#222" stroke-width="0.15">shNrf2</text>
<line x1="577.9" y1="182.8" x2="626.1" y2="182.8" stroke="#666" stroke-width="1"/>
<text x="444.58" y="198.9" font-size="8.8" fill="#222" textLength="36.93" lengthAdjust="spacingAndGlyphs" stroke="#222" stroke-width="0.15">CoPP(μm)</text>
<text x="497.98" y="198.8" font-size="8.8" fill="#222" textLength="3.93" lengthAdjust="spacingAndGlyphs" stroke="#222" stroke-width="0.15">0</text>
<text x="525.48" y="198.8" font-size="8.8" fill="#222" textLength="5.03" lengthAdjust="spacingAndGlyphs" stroke="#222" stroke-width="0.15">5</text>
<text x="549.18" y="198.8" font-size="8.8" fill="#222" textLength="8.83" lengthAdjust="spacingAndGlyphs" stroke="#222" stroke-width="0.15">10</text>
<text x="575.18" y="198.8" font-size="8.8" fill="#222" textLength="4.33" lengthAdjust="spacingAndGlyphs" stroke="#222" stroke-width="0.15">0</text>
<text x="601.28" y="198.8" font-size="8.8" fill="#222" textLength="4.33" lengthAdjust="spacingAndGlyphs" stroke="#222" stroke-width="0.15">5</text>
<text x="622.68" y="198.8" font-size="8.8" fill="#222" textLength="8.83" lengthAdjust="spacingAndGlyphs" stroke="#222" stroke-width="0.15">10</text>
<rect x="484.7" y="207.6" width="159.8" height="27.6" fill="#f6f6f6" stroke="none" stroke-width="1"/>
<rect x="490.5" y="215.8" width="23" height="9.4" rx="4.7" fill="#000" opacity="0.07" filter="url(#bl2_5)"/>
<rect x="492.5" y="218.8" width="19" height="3.4" rx="1.7" fill="#0a0a0a" opacity="0.7" filter="url(#bl1_0)"/>
<rect x="514.9" y="215.2" width="25" height="10.6" rx="5.3" fill="#000" opacity="0.1" filter="url(#bl2_5)"/>
<rect x="516.9" y="218.2" width="21" height="4.6" rx="2.3" fill="#0a0a0a" opacity="1" filter="url(#bl1_0)"/>
<rect x="539.25" y="213.1" width="25.5" height="14.8" rx="7.4" fill="#000" opacity="0.1" filter="url(#bl2_5)"/>
<rect x="541.25" y="216.1" width="21.5" height="8.8" rx="4.4" fill="#0a0a0a" opacity="1" filter="url(#bl1_0)"/>
<rect x="570" y="219.1" width="18" height="2.8" rx="1.4" fill="#0a0a0a" opacity="0.25" filter="url(#bl1_0)"/>
<rect x="590.55" y="215.55" width="23.5" height="9.9" rx="4.95" fill="#000" opacity="0.08" filter="url(#bl2_5)"/>
<rect x="592.55" y="218.55" width="19.5" height="3.9" rx="1.95" fill="#0a0a0a" opacity="0.8" filter="url(#bl1_0)"/>
<rect x="613.25" y="211.9" width="29.5" height="17.2" rx="8.6" fill="#000" opacity="0.1" filter="url(#bl2_5)"/>
<rect x="615.25" y="214.9" width="25.5" height="11.2" rx="5.6" fill="#0a0a0a" opacity="1" filter="url(#bl1_0)"/>
<rect x="484.7" y="207.6" width="159.8" height="27.6" fill="none" stroke="#222" stroke-width="1"/>
<text x="451.48" y="225.5" font-size="9" fill="#222" textLength="27.05" lengthAdjust="spacingAndGlyphs" stroke="#222" stroke-width="0.15">HMOX1</text>
<text x="650.65" y="225" font-size="9.6" fill="#222" textLength="24.19" lengthAdjust="spacingAndGlyphs" stroke="#222" stroke-width="0.15">33 kDa</text>
<text x="493.67" y="248.8" font-size="9.3" fill="#222" textLength="15.77" lengthAdjust="spacingAndGlyphs" stroke="#222" stroke-width="0.15">1.00</text>
<text x="519.27" y="248.8" font-size="9.3" fill="#222" textLength="16.47" lengthAdjust="spacingAndGlyphs" stroke="#222" stroke-width="0.15">2.04</text>
<text x="546.27" y="248.8" font-size="9.3" fill="#222" textLength="15.77" lengthAdjust="spacingAndGlyphs" stroke="#222" stroke-width="0.15">2.58</text>
<text x="570.77" y="248.8" font-size="9.3" fill="#222" textLength="15.77" lengthAdjust="spacingAndGlyphs" stroke="#222" stroke-width="0.15">0.31</text>
<text x="597.07" y="248.8" font-size="9.3" fill="#222" textLength="16.47" lengthAdjust="spacingAndGlyphs" stroke="#222" stroke-width="0.15">1.30</text>
<text x="619.87" y="248.8" font-size="9.3" fill="#222" textLength="16.47" lengthAdjust="spacingAndGlyphs" stroke="#222" stroke-width="0.15">3.59</text>
<rect x="484.7" y="256.9" width="159.8" height="21.7" fill="#f6f6f6" stroke="none" stroke-width="1"/>
<rect x="489" y="262.7" width="24" height="11.8" rx="5.9" fill="#000" opacity="0.1" filter="url(#bl2_5)"/>
<rect x="491" y="265.7" width="20" height="5.8" rx="2.9" fill="#0a0a0a" opacity="1" filter="url(#bl0_9)"/>
<rect x="515.4" y="262.7" width="24" height="11.8" rx="5.9" fill="#000" opacity="0.1" filter="url(#bl2_5)"/>
<rect x="517.4" y="265.7" width="20" height="5.8" rx="2.9" fill="#0a0a0a" opacity="1" filter="url(#bl0_9)"/>
<rect x="540" y="262.7" width="24" height="11.8" rx="5.9" fill="#000" opacity="0.1" filter="url(#bl2_5)"/>
<rect x="542" y="265.7" width="20" height="5.8" rx="2.9" fill="#0a0a0a" opacity="1" filter="url(#bl0_9)"/>
<rect x="567" y="262.7" width="24" height="11.8" rx="5.9" fill="#000" opacity="0.1" filter="url(#bl2_5)"/>
<rect x="569" y="265.7" width="20" height="5.8" rx="2.9" fill="#0a0a0a" opacity="1" filter="url(#bl0_9)"/>
<rect x="590.3" y="262.7" width="24" height="11.8" rx="5.9" fill="#000" opacity="0.1" filter="url(#bl2_5)"/>
<rect x="592.3" y="265.7" width="20" height="5.8" rx="2.9" fill="#0a0a0a" opacity="1" filter="url(#bl0_9)"/>
<rect x="617" y="262.7" width="21" height="11.8" rx="5.9" fill="#000" opacity="0.09" filter="url(#bl2_5)"/>
<rect x="619" y="265.7" width="17" height="5.8" rx="2.9" fill="#0a0a0a" opacity="0.9" filter="url(#bl0_9)"/>
<rect x="484.7" y="256.9" width="159.8" height="21.7" fill="none" stroke="#222" stroke-width="1"/>
<text x="453.48" y="270.9" font-size="8.8" fill="#222" textLength="25.83" lengthAdjust="spacingAndGlyphs" stroke="#222" stroke-width="0.15">β-Actin</text>
<text x="650.65" y="271.3" font-size="9.6" fill="#222" textLength="24.19" lengthAdjust="spacingAndGlyphs" stroke="#222" stroke-width="0.15">42 kDa</text>
<text x="443.1" y="312.5" font-size="14.2" fill="#111" stroke="#111" stroke-width="0.15">G</text>
<line x1="475.7" y1="342.3" x2="475.7" y2="425" stroke="#000" stroke-width="1.25"/>
<line x1="471.9" y1="424.4" x2="475.7" y2="424.4" stroke="#000" stroke-width="1.1"/>
<text x="467.68" y="426.6" font-size="6.2" font-weight="bold" fill="#333" textLength="3.35" lengthAdjust="spacingAndGlyphs" stroke="#333" stroke-width="0.2">0</text>
<line x1="471.9" y1="404.02" x2="475.7" y2="404.02" stroke="#000" stroke-width="1.1"/>
<text x="467.68" y="406.22" font-size="6.2" font-weight="bold" fill="#333" textLength="3.35" lengthAdjust="spacingAndGlyphs" stroke="#333" stroke-width="0.2">1</text>
<line x1="471.9" y1="383.65" x2="475.7" y2="383.65" stroke="#000" stroke-width="1.1"/>
<text x="467.68" y="385.85" font-size="6.2" font-weight="bold" fill="#333" textLength="3.35" lengthAdjust="spacingAndGlyphs" stroke="#333" stroke-width="0.2">2</text>
<line x1="471.9" y1="363.27" x2="475.7" y2="363.27" stroke="#000" stroke-width="1.1"/>
<text x="467.68" y="365.47" font-size="6.2" font-weight="bold" fill="#333" textLength="3.35" lengthAdjust="spacingAndGlyphs" stroke="#333" stroke-width="0.2">3</text>
<line x1="471.9" y1="342.9" x2="475.7" y2="342.9" stroke="#000" stroke-width="1.1"/>
<text x="467.68" y="345.1" font-size="6.2" font-weight="bold" fill="#333" textLength="3.35" lengthAdjust="spacingAndGlyphs" stroke="#333" stroke-width="0.2">4</text>
<text x="463.7" y="383.65" font-size="8.2" font-weight="bold" text-anchor="middle" fill="#111" transform="rotate(-90 463.7 383.65)" textLength="53.5" lengthAdjust="spacingAndGlyphs" stroke="#111" stroke-width="0.2">HMOX1 / Actin</text>
<line x1="475.1" y1="424.4" x2="620" y2="424.4" stroke="#000" stroke-width="1.25"/>
<path d="M483.25 424.4V404.67H494.75V424.4" fill="#fff" stroke="#111" stroke-width="1.3"/>
<path d="M504.05 424.4V386.34H515.75V424.4" fill="#fff" stroke="#111" stroke-width="1.3"/>
<path d="M524.25 424.4V374.52H535.95V424.4" fill="#fff" stroke="#111" stroke-width="1.3"/>
<path d="M558.58 424.4V417.84H570.82V424.4" fill="#fff" stroke="#e8262a" stroke-width="1.15"/>
<path d="M578.98 424.4V397.88H591.02V424.4" fill="#fff" stroke="#e8262a" stroke-width="1.15"/>
<path d="M599.98 424.4V357.74H611.82V424.4" fill="#fff" stroke="#e8262a" stroke-width="1.15"/>
<circle cx="486" cy="404.2" r="1.4" fill="#000"/>
<circle cx="489" cy="404.2" r="1.4" fill="#000"/>
<circle cx="492" cy="404.2" r="1.4" fill="#000"/>
<circle cx="506.8" cy="381.6" r="1.4" fill="#000"/>
<circle cx="513" cy="383.5" r="1.4" fill="#000"/>
<circle cx="510" cy="389.8" r="1.4" fill="#000"/>
<line x1="510" y1="382.6" x2="510" y2="388.2" stroke="#000" stroke-width="1.1"/>
<line x1="507.4" y1="382.6" x2="512.6" y2="382.6" stroke="#000" stroke-width="1.1"/>
<line x1="507.4" y1="388.2" x2="512.6" y2="388.2" stroke="#000" stroke-width="1.1"/>
<circle cx="526.6" cy="371.6" r="1.4" fill="#000"/>
<circle cx="530" cy="373.2" r="1.4" fill="#000"/>
<circle cx="533.6" cy="376.4" r="1.4" fill="#000"/>
<line x1="530" y1="372.2" x2="530" y2="375.6" stroke="#000" stroke-width="1.1"/>
<line x1="527.4" y1="372.2" x2="532.6" y2="372.2" stroke="#000" stroke-width="1.1"/>
<line x1="527.4" y1="375.6" x2="532.6" y2="375.6" stroke="#000" stroke-width="1.1"/>
<path d="M561.7 416.2L563.1 418.72L560.3 418.72Z" fill="#000"/>
<path d="M564.7 416.2L566.1 418.72L563.3 418.72Z" fill="#000"/>
<path d="M567.7 417L569.1 419.52L566.3 419.52Z" fill="#000"/>
<path d="M585 391.9L586.5 394.6L583.5 394.6Z" fill="#000"/>
<path d="M582.4 396.7L583.9 399.4L580.9 399.4Z" fill="#000"/>
<path d="M588 398.1L589.5 400.8L586.5 400.8Z" fill="#000"/>
<line x1="585" y1="394.6" x2="585" y2="399" stroke="#000" stroke-width="1.1"/>
<line x1="582.4" y1="394.6" x2="587.6" y2="394.6" stroke="#000" stroke-width="1.1"/>
<line x1="582.4" y1="399" x2="587.6" y2="399" stroke="#000" stroke-width="1.1"/>
<path d="M603.6 350.3L605.1 353L602.1 353Z" fill="#000"/>
<path d="M608.8 352.9L610.3 355.6L607.3 355.6Z" fill="#000"/>
<path d="M606 363.5L607.5 366.2L604.5 366.2Z" fill="#000"/>
<line x1="606" y1="352.5" x2="606" y2="361.2" stroke="#000" stroke-width="1.1"/>
<line x1="603.4" y1="352.5" x2="608.6" y2="352.5" stroke="#000" stroke-width="1.1"/>
<line x1="603.4" y1="361.2" x2="608.6" y2="361.2" stroke="#000" stroke-width="1.1"/>
<line x1="489.2" y1="424.4" x2="489.2" y2="427.5" stroke="#000" stroke-width="1.1"/>
<text x="487.58" y="434.8" font-size="6" font-weight="bold" fill="#222" textLength="3.23" lengthAdjust="spacingAndGlyphs" stroke="#222" stroke-width="0.2">0</text>
<line x1="509.7" y1="424.4" x2="509.7" y2="427.5" stroke="#000" stroke-width="1.1"/>
<text x="508.08" y="434.8" font-size="6" font-weight="bold" fill="#222" textLength="3.23" lengthAdjust="spacingAndGlyphs" stroke="#222" stroke-width="0.2">5</text>
<line x1="530.1" y1="424.4" x2="530.1" y2="427.5" stroke="#000" stroke-width="1.1"/>
<text x="526.78" y="434.8" font-size="6" font-weight="bold" fill="#222" textLength="7.63" lengthAdjust="spacingAndGlyphs" stroke="#222" stroke-width="0.2">10</text>
<line x1="564.3" y1="424.4" x2="564.3" y2="427.5" stroke="#000" stroke-width="1.1"/>
<text x="562.68" y="434.8" font-size="6" font-weight="bold" fill="#222" textLength="3.23" lengthAdjust="spacingAndGlyphs" stroke="#222" stroke-width="0.2">0</text>
<line x1="585.3" y1="424.4" x2="585.3" y2="427.5" stroke="#000" stroke-width="1.1"/>
<text x="583.68" y="434.8" font-size="6" font-weight="bold" fill="#222" textLength="3.23" lengthAdjust="spacingAndGlyphs" stroke="#222" stroke-width="0.2">5</text>
<line x1="605.8" y1="424.4" x2="605.8" y2="427.5" stroke="#000" stroke-width="1.1"/>
<text x="602.18" y="434.8" font-size="6" font-weight="bold" fill="#222" textLength="7.43" lengthAdjust="spacingAndGlyphs" stroke="#222" stroke-width="0.2">10</text>
<text x="516.49" y="450.6" font-size="8.6" font-weight="bold" fill="#222" textLength="73.62" lengthAdjust="spacingAndGlyphs" stroke="#222" stroke-width="0.2">Concentration(μm)</text>
<text x="538.99" y="464.6" font-size="8.6" font-weight="bold" fill="#222" textLength="20.62" lengthAdjust="spacingAndGlyphs" stroke="#222" stroke-width="0.2">Copp</text>
<line x1="486.2" y1="376.5" x2="508.3" y2="376.5" stroke="#222" stroke-width="1"/>
<path d="M492.25 369.41L492.25 372.59M493.63 370.21L490.87 371.79M493.63 371.79L490.87 370.21" stroke="#111" stroke-width="1.31" stroke-linecap="round"/>
<path d="M497.25 369.41L497.25 372.59M498.63 370.21L495.87 371.79M498.63 371.79L495.87 370.21" stroke="#111" stroke-width="1.31" stroke-linecap="round"/>
<path d="M502.25 369.41L502.25 372.59M503.63 370.21L500.87 371.79M503.63 371.79L500.87 370.21" stroke="#111" stroke-width="1.31" stroke-linecap="round"/>
<line x1="486.2" y1="364.5" x2="529.8" y2="364.5" stroke="#222" stroke-width="1"/>
<path d="M500.5 357.41L500.5 360.59M501.88 358.21L499.12 359.79M501.88 359.79L499.12 358.21" stroke="#111" stroke-width="1.31" stroke-linecap="round"/>
<path d="M505.5 357.41L505.5 360.59M506.88 358.21L504.12 359.79M506.88 359.79L504.12 358.21" stroke="#111" stroke-width="1.31" stroke-linecap="round"/>
<path d="M510.5 357.41L510.5 360.59M511.88 358.21L509.12 359.79M511.88 359.79L509.12 358.21" stroke="#111" stroke-width="1.31" stroke-linecap="round"/>
<path d="M515.5 357.41L515.5 360.59M516.88 358.21L514.12 359.79M516.88 359.79L514.12 358.21" stroke="#111" stroke-width="1.31" stroke-linecap="round"/>
<line x1="486.2" y1="351.5" x2="564.6" y2="351.5" stroke="#222" stroke-width="1"/>
<path d="M517.9 344.31L517.9 347.49M519.28 345.11L516.52 346.69M519.28 346.69L516.52 345.11" stroke="#111" stroke-width="1.31" stroke-linecap="round"/>
<path d="M522.9 344.31L522.9 347.49M524.28 345.11L521.52 346.69M524.28 346.69L521.52 345.11" stroke="#111" stroke-width="1.31" stroke-linecap="round"/>
<path d="M527.9 344.31L527.9 347.49M529.28 345.11L526.52 346.69M529.28 346.69L526.52 345.11" stroke="#111" stroke-width="1.31" stroke-linecap="round"/>
<path d="M532.9 344.31L532.9 347.49M534.28 345.11L531.52 346.69M534.28 346.69L531.52 345.11" stroke="#111" stroke-width="1.31" stroke-linecap="round"/>
<line x1="485" y1="322.5" x2="606.6" y2="322.5" stroke="#222" stroke-width="1"/>
<path d="M540.8 315.21L540.8 318.39M542.18 316.01L539.42 317.59M542.18 317.59L539.42 316.01" stroke="#111" stroke-width="1.31" stroke-linecap="round"/>
<path d="M545.8 315.21L545.8 318.39M547.18 316.01L544.42 317.59M547.18 317.59L544.42 316.01" stroke="#111" stroke-width="1.31" stroke-linecap="round"/>
<path d="M550.8 315.21L550.8 318.39M552.18 316.01L549.42 317.59M552.18 317.59L549.42 316.01" stroke="#111" stroke-width="1.31" stroke-linecap="round"/>
<line x1="525.4" y1="334.5" x2="604.4" y2="334.5" stroke="#222" stroke-width="1"/>
<path d="M564.9 327.41L564.9 330.59M566.28 328.21L563.52 329.79M566.28 329.79L563.52 328.21" stroke="#111" stroke-width="1.31" stroke-linecap="round"/>
<line x1="562.4" y1="347.5" x2="606" y2="347.5" stroke="#222" stroke-width="1"/>
<path d="M579.2 340.41L579.2 343.59M580.58 341.21L577.82 342.79M580.58 342.79L577.82 341.21" stroke="#111" stroke-width="1.31" stroke-linecap="round"/>
<path d="M584.2 340.41L584.2 343.59M585.58 341.21L582.82 342.79M585.58 342.79L582.82 341.21" stroke="#111" stroke-width="1.31" stroke-linecap="round"/>
<path d="M589.2 340.41L589.2 343.59M590.58 341.21L587.82 342.79M590.58 342.79L587.82 341.21" stroke="#111" stroke-width="1.31" stroke-linecap="round"/>
<line x1="565" y1="389.5" x2="584.4" y2="389.5" stroke="#222" stroke-width="1"/>
<path d="M572.2 382.21L572.2 385.39M573.58 383.01L570.82 384.59M573.58 384.59L570.82 383.01" stroke="#111" stroke-width="1.31" stroke-linecap="round"/>
<path d="M577.2 382.21L577.2 385.39M578.58 383.01L575.82 384.59M578.58 384.59L575.82 383.01" stroke="#111" stroke-width="1.31" stroke-linecap="round"/>
<circle cx="650" cy="337.7" r="1.8" fill="#000"/>
<text x="659.72" y="340.5" font-size="7.8" fill="#222" textLength="11.46" lengthAdjust="spacingAndGlyphs" stroke="#222" stroke-width="0.15">NC</text>
<path d="M650 348.5L651.8 351.74L648.2 351.74Z" fill="#000"/>
<text x="659.72" y="352.6" font-size="7.8" fill="#222" textLength="23.56" lengthAdjust="spacingAndGlyphs" stroke="#222" stroke-width="0.15">shNrf2</text>
<text x="1.8" y="489.4" font-size="14.2" fill="#111" stroke="#111" stroke-width="0.15">E</text>
<line x1="76.7" y1="514.7" x2="76.7" y2="641.2" stroke="#000" stroke-width="1.4"/>
<line x1="71.6" y1="640.6" x2="76.7" y2="640.6" stroke="#000" stroke-width="1.2"/>
<text x="65.96" y="643" font-size="6.8" font-weight="bold" fill="#222" textLength="4.89" lengthAdjust="spacingAndGlyphs" stroke="#222" stroke-width="0.2">0</text>
<line x1="71.6" y1="615.56" x2="76.7" y2="615.56" stroke="#000" stroke-width="1.2"/>
<text x="67.36" y="617.96" font-size="6.8" font-weight="bold" fill="#222" textLength="3.49" lengthAdjust="spacingAndGlyphs" stroke="#222" stroke-width="0.2">1</text>
<line x1="71.6" y1="590.52" x2="76.7" y2="590.52" stroke="#000" stroke-width="1.2"/>
<text x="65.96" y="592.92" font-size="6.8" font-weight="bold" fill="#222" textLength="4.89" lengthAdjust="spacingAndGlyphs" stroke="#222" stroke-width="0.2">2</text>
<line x1="71.6" y1="565.48" x2="76.7" y2="565.48" stroke="#000" stroke-width="1.2"/>
<text x="65.96" y="567.88" font-size="6.8" font-weight="bold" fill="#222" textLength="4.89" lengthAdjust="spacingAndGlyphs" stroke="#222" stroke-width="0.2">3</text>
<line x1="71.6" y1="540.44" x2="76.7" y2="540.44" stroke="#000" stroke-width="1.2"/>
<text x="65.96" y="542.84" font-size="6.8" font-weight="bold" fill="#222" textLength="4.89" lengthAdjust="spacingAndGlyphs" stroke="#222" stroke-width="0.2">4</text>
<line x1="71.6" y1="515.4" x2="76.7" y2="515.4" stroke="#000" stroke-width="1.2"/>
<text x="65.96" y="517.8" font-size="6.8" font-weight="bold" fill="#222" textLength="4.89" lengthAdjust="spacingAndGlyphs" stroke="#222" stroke-width="0.2">5</text>
<text x="59.3" y="578.1" font-size="11.7" font-weight="bold" text-anchor="middle" fill="#111" transform="rotate(-90 59.3 578.1)" textLength="102.2" lengthAdjust="spacingAndGlyphs" stroke="#111" stroke-width="0.2">Relative level  to Actin</text>
<line x1="71.6" y1="640.6" x2="596.6" y2="640.6" stroke="#000" stroke-width="1.4"/>
<line x1="126.2" y1="640.6" x2="126.2" y2="645.2" stroke="#000" stroke-width="1.3"/>
<text x="115.54" y="659.1" font-size="10.1" font-weight="bold" fill="#111" textLength="21.73" lengthAdjust="spacingAndGlyphs">Nrf2</text>
<path d="M83.03 640V616.29H91.18V640" fill="#fff" stroke="#2b3590" stroke-width="1.45"/>
<circle cx="84.5" cy="616.46" r="1.2" fill="#fff" stroke="#2b3590" stroke-width="0.9"/>
<circle cx="87.1" cy="616.46" r="1.2" fill="#fff" stroke="#2b3590" stroke-width="0.9"/>
<circle cx="89.7" cy="616.46" r="1.2" fill="#fff" stroke="#2b3590" stroke-width="0.9"/>
<path d="M98.78 640V607.52H106.93V640" fill="#fff" stroke="#e4572e" stroke-width="1.45"/>
<rect x="99.25" y="604.6" width="2.4" height="2.4" fill="#fff" stroke="#e4572e" stroke-width="0.9"/>
<rect x="102.25" y="606.4" width="2.4" height="2.4" fill="#fff" stroke="#e4572e" stroke-width="0.9"/>
<rect x="104.45" y="606.1" width="2.4" height="2.4" fill="#fff" stroke="#e4572e" stroke-width="0.9"/>
<path d="M114.53 640V595H122.68V640" fill="#fff" stroke="#2b3590" stroke-width="1.45"/>
<circle cx="116.2" cy="593.48" r="1.4" fill="#2b3590"/>
<circle cx="119" cy="594.68" r="1.4" fill="#2b3590"/>
<circle cx="121.2" cy="594.58" r="1.4" fill="#2b3590"/>
<path d="M130.28 640V582.48H138.43V640" fill="#fff" stroke="#e4572e" stroke-width="1.45"/>
<rect x="130.9" y="580.71" width="2.5" height="2.5" fill="#e4572e"/>
<rect x="133.5" y="581.31" width="2.5" height="2.5" fill="#e4572e"/>
<rect x="135.3" y="581.01" width="2.5" height="2.5" fill="#e4572e"/>
<path d="M146.03 640V584.99H154.18V640" fill="#fff" stroke="#2b3590" stroke-width="1.45"/>
<circle cx="147.7" cy="583.46" r="1.4" fill="#2b3590"/>
<circle cx="150.5" cy="584.66" r="1.4" fill="#2b3590"/>
<circle cx="152.7" cy="584.56" r="1.4" fill="#2b3590"/>
<path d="M161.78 640V562.45H169.93V640" fill="#fff" stroke="#e4572e" stroke-width="1.45"/>
<rect x="162.4" y="560.67" width="2.5" height="2.5" fill="#e4572e"/>
<rect x="165" y="561.27" width="2.5" height="2.5" fill="#e4572e"/>
<rect x="166.8" y="560.97" width="2.5" height="2.5" fill="#e4572e"/>
<line x1="231.15" y1="640.6" x2="231.15" y2="645.2" stroke="#000" stroke-width="1.3"/>
<text x="211.34" y="659.1" font-size="10.1" font-weight="bold" fill="#111" textLength="38.53" lengthAdjust="spacingAndGlyphs">HMOX1</text>
<path d="M187.97 640V616.29H196.12V640" fill="#fff" stroke="#2b3590" stroke-width="1.45"/>
<circle cx="189.45" cy="616.46" r="1.2" fill="#fff" stroke="#2b3590" stroke-width="0.9"/>
<circle cx="192.05" cy="616.46" r="1.2" fill="#fff" stroke="#2b3590" stroke-width="0.9"/>
<circle cx="194.65" cy="616.46" r="1.2" fill="#fff" stroke="#2b3590" stroke-width="0.9"/>
<path d="M203.72 640V620.79H211.88V640" fill="#fff" stroke="#e4572e" stroke-width="1.45"/>
<rect x="204.2" y="617.87" width="2.4" height="2.4" fill="#fff" stroke="#e4572e" stroke-width="0.9"/>
<rect x="207.2" y="619.67" width="2.4" height="2.4" fill="#fff" stroke="#e4572e" stroke-width="0.9"/>
<rect x="209.4" y="619.37" width="2.4" height="2.4" fill="#fff" stroke="#e4572e" stroke-width="0.9"/>
<path d="M219.47 640V612.53H227.62V640" fill="#fff" stroke="#2b3590" stroke-width="1.45"/>
<circle cx="221.15" cy="611" r="1.4" fill="#2b3590"/>
<circle cx="223.95" cy="612.2" r="1.4" fill="#2b3590"/>
<circle cx="226.15" cy="612.1" r="1.4" fill="#2b3590"/>
<path d="M235.22 640V613.03H243.38V640" fill="#fff" stroke="#e4572e" stroke-width="1.45"/>
<rect x="235.85" y="611.25" width="2.5" height="2.5" fill="#e4572e"/>
<rect x="238.45" y="611.85" width="2.5" height="2.5" fill="#e4572e"/>
<rect x="240.25" y="611.55" width="2.5" height="2.5" fill="#e4572e"/>
<path d="M250.97 640V618.54H259.12V640" fill="#fff" stroke="#2b3590" stroke-width="1.45"/>
<circle cx="252.65" cy="617.01" r="1.4" fill="#2b3590"/>
<circle cx="255.45" cy="618.21" r="1.4" fill="#2b3590"/>
<circle cx="257.65" cy="618.11" r="1.4" fill="#2b3590"/>
<path d="M266.73 640V606.27H274.88V640" fill="#fff" stroke="#e4572e" stroke-width="1.45"/>
<rect x="267.35" y="604.49" width="2.5" height="2.5" fill="#e4572e"/>
<rect x="269.95" y="605.09" width="2.5" height="2.5" fill="#e4572e"/>
<rect x="271.75" y="604.79" width="2.5" height="2.5" fill="#e4572e"/>
<line x1="336.1" y1="640.6" x2="336.1" y2="645.2" stroke="#000" stroke-width="1.3"/>
<text x="317.74" y="659.1" font-size="10.1" font-weight="bold" fill="#111" textLength="36.63" lengthAdjust="spacingAndGlyphs">ACSL4</text>
<path d="M292.93 640V616.29H301.08V640" fill="#fff" stroke="#2b3590" stroke-width="1.45"/>
<circle cx="294.4" cy="616.46" r="1.2" fill="#fff" stroke="#2b3590" stroke-width="0.9"/>
<circle cx="297" cy="616.46" r="1.2" fill="#fff" stroke="#2b3590" stroke-width="0.9"/>
<circle cx="299.6" cy="616.46" r="1.2" fill="#fff" stroke="#2b3590" stroke-width="0.9"/>
<path d="M308.68 640V634.31H316.83V640" fill="#fff" stroke="#e4572e" stroke-width="1.45"/>
<rect x="309.15" y="631.39" width="2.4" height="2.4" fill="#fff" stroke="#e4572e" stroke-width="0.9"/>
<rect x="312.15" y="633.19" width="2.4" height="2.4" fill="#fff" stroke="#e4572e" stroke-width="0.9"/>
<rect x="314.35" y="632.89" width="2.4" height="2.4" fill="#fff" stroke="#e4572e" stroke-width="0.9"/>
<path d="M324.43 640V618.29H332.58V640" fill="#fff" stroke="#2b3590" stroke-width="1.45"/>
<circle cx="326.1" cy="616.76" r="1.4" fill="#2b3590"/>
<circle cx="328.9" cy="617.96" r="1.4" fill="#2b3590"/>
<circle cx="331.1" cy="617.86" r="1.4" fill="#2b3590"/>
<path d="M340.18 640V631.81H348.33V640" fill="#fff" stroke="#e4572e" stroke-width="1.45"/>
<rect x="340.8" y="630.03" width="2.5" height="2.5" fill="#e4572e"/>
<rect x="343.4" y="630.63" width="2.5" height="2.5" fill="#e4572e"/>
<rect x="345.2" y="630.33" width="2.5" height="2.5" fill="#e4572e"/>
<path d="M355.93 640V613.78H364.08V640" fill="#fff" stroke="#2b3590" stroke-width="1.45"/>
<circle cx="357.6" cy="612.26" r="1.4" fill="#2b3590"/>
<circle cx="360.4" cy="613.46" r="1.4" fill="#2b3590"/>
<circle cx="362.6" cy="613.36" r="1.4" fill="#2b3590"/>
<path d="M371.68 640V615.03H379.83V640" fill="#fff" stroke="#e4572e" stroke-width="1.45"/>
<rect x="372.3" y="613.26" width="2.5" height="2.5" fill="#e4572e"/>
<rect x="374.9" y="613.86" width="2.5" height="2.5" fill="#e4572e"/>
<rect x="376.7" y="613.56" width="2.5" height="2.5" fill="#e4572e"/>
<line x1="441.05" y1="640.6" x2="441.05" y2="645.2" stroke="#000" stroke-width="1.3"/>
<text x="426.54" y="659.1" font-size="10.1" font-weight="bold" fill="#111" textLength="29.23" lengthAdjust="spacingAndGlyphs">GPX4</text>
<path d="M397.88 640V616.29H406.03V640" fill="#fff" stroke="#2b3590" stroke-width="1.45"/>
<circle cx="399.35" cy="616.46" r="1.2" fill="#fff" stroke="#2b3590" stroke-width="0.9"/>
<circle cx="401.95" cy="616.46" r="1.2" fill="#fff" stroke="#2b3590" stroke-width="0.9"/>
<circle cx="404.55" cy="616.46" r="1.2" fill="#fff" stroke="#2b3590" stroke-width="0.9"/>
<path d="M413.63 640V613.78H421.78V640" fill="#fff" stroke="#e4572e" stroke-width="1.45"/>
<rect x="414.1" y="610.86" width="2.4" height="2.4" fill="#fff" stroke="#e4572e" stroke-width="0.9"/>
<rect x="417.1" y="612.66" width="2.4" height="2.4" fill="#fff" stroke="#e4572e" stroke-width="0.9"/>
<rect x="419.3" y="612.36" width="2.4" height="2.4" fill="#fff" stroke="#e4572e" stroke-width="0.9"/>
<path d="M429.38 640V609.77H437.53V640" fill="#fff" stroke="#2b3590" stroke-width="1.45"/>
<circle cx="431.05" cy="608.25" r="1.4" fill="#2b3590"/>
<circle cx="433.85" cy="609.45" r="1.4" fill="#2b3590"/>
<circle cx="436.05" cy="609.35" r="1.4" fill="#2b3590"/>
<path d="M445.13 640V609.77H453.28V640" fill="#fff" stroke="#e4572e" stroke-width="1.45"/>
<rect x="445.75" y="608" width="2.5" height="2.5" fill="#e4572e"/>
<rect x="448.35" y="608.6" width="2.5" height="2.5" fill="#e4572e"/>
<rect x="450.15" y="608.3" width="2.5" height="2.5" fill="#e4572e"/>
<path d="M460.88 640V611.28H469.03V640" fill="#fff" stroke="#2b3590" stroke-width="1.45"/>
<circle cx="462.55" cy="609.75" r="1.4" fill="#2b3590"/>
<circle cx="465.35" cy="610.95" r="1.4" fill="#2b3590"/>
<circle cx="467.55" cy="610.85" r="1.4" fill="#2b3590"/>
<path d="M476.63 640V609.77H484.78V640" fill="#fff" stroke="#e4572e" stroke-width="1.45"/>
<rect x="477.25" y="608" width="2.5" height="2.5" fill="#e4572e"/>
<rect x="479.85" y="608.6" width="2.5" height="2.5" fill="#e4572e"/>
<rect x="481.65" y="608.3" width="2.5" height="2.5" fill="#e4572e"/>
<line x1="546" y1="640.6" x2="546" y2="645.2" stroke="#000" stroke-width="1.3"/>
<text x="521.34" y="659.1" font-size="10.1" font-weight="bold" fill="#111" textLength="47.83" lengthAdjust="spacingAndGlyphs">SLC7A11</text>
<path d="M502.83 640V616.29H510.98V640" fill="#fff" stroke="#2b3590" stroke-width="1.45"/>
<circle cx="504.3" cy="616.46" r="1.2" fill="#fff" stroke="#2b3590" stroke-width="0.9"/>
<circle cx="506.9" cy="616.46" r="1.2" fill="#fff" stroke="#2b3590" stroke-width="0.9"/>
<circle cx="509.5" cy="616.46" r="1.2" fill="#fff" stroke="#2b3590" stroke-width="0.9"/>
<path d="M518.58 640V626.3H526.73V640" fill="#fff" stroke="#e4572e" stroke-width="1.45"/>
<rect x="519.05" y="623.38" width="2.4" height="2.4" fill="#fff" stroke="#e4572e" stroke-width="0.9"/>
<rect x="522.05" y="625.18" width="2.4" height="2.4" fill="#fff" stroke="#e4572e" stroke-width="0.9"/>
<rect x="524.25" y="624.88" width="2.4" height="2.4" fill="#fff" stroke="#e4572e" stroke-width="0.9"/>
<path d="M534.33 640V617.04H542.48V640" fill="#fff" stroke="#2b3590" stroke-width="1.45"/>
<circle cx="536" cy="615.51" r="1.4" fill="#2b3590"/>
<circle cx="538.8" cy="616.71" r="1.4" fill="#2b3590"/>
<circle cx="541" cy="616.61" r="1.4" fill="#2b3590"/>
<path d="M550.08 640V627.3H558.23V640" fill="#fff" stroke="#e4572e" stroke-width="1.45"/>
<rect x="550.7" y="625.53" width="2.5" height="2.5" fill="#e4572e"/>
<rect x="553.3" y="626.13" width="2.5" height="2.5" fill="#e4572e"/>
<rect x="555.1" y="625.83" width="2.5" height="2.5" fill="#e4572e"/>
<path d="M565.83 640V617.04H573.98V640" fill="#fff" stroke="#2b3590" stroke-width="1.45"/>
<circle cx="567.5" cy="615.51" r="1.4" fill="#2b3590"/>
<circle cx="570.3" cy="616.71" r="1.4" fill="#2b3590"/>
<circle cx="572.5" cy="616.61" r="1.4" fill="#2b3590"/>
<path d="M581.58 640V627.3H589.73V640" fill="#fff" stroke="#e4572e" stroke-width="1.45"/>
<rect x="582.2" y="625.53" width="2.5" height="2.5" fill="#e4572e"/>
<rect x="584.8" y="626.13" width="2.5" height="2.5" fill="#e4572e"/>
<rect x="586.6" y="625.83" width="2.5" height="2.5" fill="#e4572e"/>
<line x1="118.6" y1="589.6" x2="118.6" y2="597" stroke="#2b3590" stroke-width="1.2"/>
<line x1="116" y1="589.6" x2="121.2" y2="589.6" stroke="#2b3590" stroke-width="1.2"/>
<line x1="116" y1="597" x2="121.2" y2="597" stroke="#2b3590" stroke-width="1.2"/>
<circle cx="118.2" cy="591.4" r="1.5" fill="#2b3590"/>
<circle cx="121.6" cy="591.6" r="1.5" fill="#2b3590"/>
<circle cx="119" cy="597.8" r="1.5" fill="#2b3590"/>
<line x1="134.35" y1="576.6" x2="134.35" y2="585.6" stroke="#e4572e" stroke-width="1.2"/>
<line x1="131.75" y1="576.6" x2="136.95" y2="576.6" stroke="#e4572e" stroke-width="1.2"/>
<line x1="131.75" y1="585.6" x2="136.95" y2="585.6" stroke="#e4572e" stroke-width="1.2"/>
<rect x="132.95" y="572.15" width="2.9" height="2.9" fill="#e4572e"/>
<rect x="132.95" y="586.95" width="2.9" height="2.9" fill="#e4572e"/>
<line x1="150.1" y1="578.6" x2="150.1" y2="589.6" stroke="#2b3590" stroke-width="1.2"/>
<line x1="147.5" y1="578.6" x2="152.7" y2="578.6" stroke="#2b3590" stroke-width="1.2"/>
<line x1="147.5" y1="589.6" x2="152.7" y2="589.6" stroke="#2b3590" stroke-width="1.2"/>
<circle cx="150" cy="574.8" r="1.5" fill="#2b3590"/>
<circle cx="152.4" cy="587.6" r="1.5" fill="#2b3590"/>
<line x1="165.85" y1="549.4" x2="165.85" y2="573.6" stroke="#e4572e" stroke-width="1.2"/>
<line x1="163.25" y1="549.4" x2="168.45" y2="549.4" stroke="#e4572e" stroke-width="1.2"/>
<line x1="163.25" y1="573.6" x2="168.45" y2="573.6" stroke="#e4572e" stroke-width="1.2"/>
<rect x="164.55" y="537.15" width="2.9" height="2.9" fill="#e4572e"/>
<rect x="164.55" y="567.15" width="2.9" height="2.9" fill="#e4572e"/>
<rect x="164.55" y="574.55" width="2.9" height="2.9" fill="#e4572e"/>
<rect x="237.85" y="607.55" width="2.9" height="2.9" fill="#e4572e"/>
<line x1="239.3" y1="609.6" x2="239.3" y2="613.6" stroke="#e4572e" stroke-width="1.1"/>
<line x1="236.9" y1="609.6" x2="241.7" y2="609.6" stroke="#e4572e" stroke-width="1.1"/>
<line x1="236.9" y1="613.6" x2="241.7" y2="613.6" stroke="#e4572e" stroke-width="1.1"/>
<circle cx="360" cy="607.2" r="1.5" fill="#2b3590"/>
<line x1="360" y1="608.6" x2="360" y2="613" stroke="#2b3590" stroke-width="1.1"/>
<line x1="357.6" y1="608.6" x2="362.4" y2="608.6" stroke="#2b3590" stroke-width="1.1"/>
<line x1="357.6" y1="613" x2="362.4" y2="613" stroke="#2b3590" stroke-width="1.1"/>
<circle cx="360.6" cy="615.5" r="1.4" fill="#2b3590"/>
<rect x="374.3" y="606.95" width="2.9" height="2.9" fill="#e4572e"/>
<line x1="375.75" y1="609.4" x2="375.75" y2="615" stroke="#e4572e" stroke-width="1.1"/>
<line x1="373.35" y1="609.4" x2="378.15" y2="609.4" stroke="#e4572e" stroke-width="1.1"/>
<line x1="373.35" y1="615" x2="378.15" y2="615" stroke="#e4572e" stroke-width="1.1"/>
<rect x="375.35" y="615.1" width="2.8" height="2.8" fill="#e4572e"/>
<rect x="309.95" y="629.3" width="2.6" height="2.6" fill="#fff" stroke="#e4572e" stroke-width="0.9"/>
<rect x="313.45" y="631.7" width="2.6" height="2.6" fill="#fff" stroke="#e4572e" stroke-width="0.9"/>
<rect x="341.85" y="627.4" width="2.8" height="2.8" fill="#e4572e"/>
<rect x="344.85" y="629.6" width="2.8" height="2.8" fill="#e4572e"/>
<circle cx="330.7" cy="617" r="1.4" fill="#2b3590"/>
<rect x="416.4" y="609.3" width="2.6" height="2.6" fill="#fff" stroke="#e4572e" stroke-width="0.9"/>
<rect x="418.2" y="612.3" width="2.6" height="2.6" fill="#fff" stroke="#e4572e" stroke-width="0.9"/>
<circle cx="431.95" cy="605.8" r="1.5" fill="#2b3590"/>
<circle cx="435.25" cy="607" r="1.5" fill="#2b3590"/>
<circle cx="433.45" cy="609.6" r="1.4" fill="#2b3590"/>
<rect x="447.8" y="606.6" width="2.8" height="2.8" fill="#e4572e"/>
<circle cx="464.95" cy="605.4" r="1.5" fill="#2b3590"/>
<line x1="464.95" y1="607" x2="464.95" y2="611.5" stroke="#2b3590" stroke-width="1.1"/>
<line x1="462.55" y1="607" x2="467.35" y2="607" stroke="#2b3590" stroke-width="1.1"/>
<line x1="462.55" y1="611.5" x2="467.35" y2="611.5" stroke="#2b3590" stroke-width="1.1"/>
<rect x="479.25" y="603.15" width="2.9" height="2.9" fill="#e4572e"/>
<line x1="480.7" y1="606" x2="480.7" y2="611" stroke="#e4572e" stroke-width="1.1"/>
<line x1="478.3" y1="606" x2="483.1" y2="606" stroke="#e4572e" stroke-width="1.1"/>
<line x1="478.3" y1="611" x2="483.1" y2="611" stroke="#e4572e" stroke-width="1.1"/>
<rect x="480.5" y="610.1" width="2.8" height="2.8" fill="#e4572e"/>
<line x1="522.65" y1="623.08" x2="522.65" y2="630.58" stroke="#e4572e" stroke-width="1.1"/>
<line x1="520.25" y1="623.08" x2="525.05" y2="623.08" stroke="#e4572e" stroke-width="1.1"/>
<line x1="520.25" y1="630.58" x2="525.05" y2="630.58" stroke="#e4572e" stroke-width="1.1"/>
<rect x="520.9" y="622.73" width="2.5" height="2.5" fill="#fff" stroke="#e4572e" stroke-width="0.9"/>
<rect x="521.9" y="630.53" width="2.5" height="2.5" fill="#fff" stroke="#e4572e" stroke-width="0.9"/>
<line x1="554.15" y1="624.08" x2="554.15" y2="631.58" stroke="#e4572e" stroke-width="1.1"/>
<line x1="551.75" y1="624.08" x2="556.55" y2="624.08" stroke="#e4572e" stroke-width="1.1"/>
<line x1="551.75" y1="631.58" x2="556.55" y2="631.58" stroke="#e4572e" stroke-width="1.1"/>
<rect x="552.4" y="623.73" width="2.5" height="2.5" fill="#fff" stroke="#e4572e" stroke-width="0.9"/>
<rect x="553.4" y="631.53" width="2.5" height="2.5" fill="#fff" stroke="#e4572e" stroke-width="0.9"/>
<line x1="585.65" y1="624.08" x2="585.65" y2="631.58" stroke="#e4572e" stroke-width="1.1"/>
<line x1="583.25" y1="624.08" x2="588.05" y2="624.08" stroke="#e4572e" stroke-width="1.1"/>
<line x1="583.25" y1="631.58" x2="588.05" y2="631.58" stroke="#e4572e" stroke-width="1.1"/>
<rect x="583.9" y="623.73" width="2.5" height="2.5" fill="#fff" stroke="#e4572e" stroke-width="0.9"/>
<rect x="584.9" y="631.53" width="2.5" height="2.5" fill="#fff" stroke="#e4572e" stroke-width="0.9"/>
<circle cx="536.9" cy="611.81" r="1.5" fill="#2b3590"/>
<line x1="538.4" y1="614.31" x2="538.4" y2="619.31" stroke="#2b3590" stroke-width="1.1"/>
<line x1="536" y1="614.31" x2="540.8" y2="614.31" stroke="#2b3590" stroke-width="1.1"/>
<line x1="536" y1="619.31" x2="540.8" y2="619.31" stroke="#2b3590" stroke-width="1.1"/>
<circle cx="538.4" cy="619.91" r="1.4" fill="#2b3590"/>
<circle cx="568.4" cy="611.81" r="1.5" fill="#2b3590"/>
<line x1="569.9" y1="614.31" x2="569.9" y2="619.31" stroke="#2b3590" stroke-width="1.1"/>
<line x1="567.5" y1="614.31" x2="572.3" y2="614.31" stroke="#2b3590" stroke-width="1.1"/>
<line x1="567.5" y1="619.31" x2="572.3" y2="619.31" stroke="#2b3590" stroke-width="1.1"/>
<circle cx="569.9" cy="619.91" r="1.4" fill="#2b3590"/>
<line x1="96.8" y1="530.5" x2="163.8" y2="530.5" stroke="#333" stroke-width="1.1"/>
<path d="M130.3 521.42L130.3 525.38M132.02 522.41L128.58 524.39M132.02 524.39L128.58 522.41" stroke="#111" stroke-width="1.63" stroke-linecap="round"/>
<line x1="96.8" y1="547.5" x2="138.5" y2="547.5" stroke="#333" stroke-width="1.1"/>
<path d="M114.2 538.42L114.2 542.38M115.92 539.41L112.48 541.39M115.92 541.39L112.48 539.41" stroke="#111" stroke-width="1.63" stroke-linecap="round"/>
<path d="M121.1 538.42L121.1 542.38M122.82 539.41L119.38 541.39M122.82 541.39L119.38 539.41" stroke="#111" stroke-width="1.63" stroke-linecap="round"/>
<line x1="84.5" y1="563.5" x2="150.6" y2="563.5" stroke="#333" stroke-width="1.1"/>
<path d="M114.1 554.42L114.1 558.38M115.82 555.41L112.38 557.39M115.82 557.39L112.38 555.41" stroke="#111" stroke-width="1.63" stroke-linecap="round"/>
<path d="M121 554.42L121 558.38M122.72 555.41L119.28 557.39M122.72 557.39L119.28 555.41" stroke="#111" stroke-width="1.63" stroke-linecap="round"/>
<line x1="84.5" y1="579.5" x2="117" y2="579.5" stroke="#333" stroke-width="1.1"/>
<path d="M97.3 570.72L97.3 574.68M99.02 571.71L95.58 573.69M99.02 573.69L95.58 571.71" stroke="#111" stroke-width="1.63" stroke-linecap="round"/>
<path d="M104.2 570.72L104.2 574.68M105.92 571.71L102.48 573.69M105.92 573.69L102.48 571.71" stroke="#111" stroke-width="1.63" stroke-linecap="round"/>
<line x1="85.3" y1="596.5" x2="104.2" y2="596.5" stroke="#333" stroke-width="1.1"/>
<path d="M87.85 587.92L87.85 591.88M89.57 588.91L86.13 590.89M89.57 590.89L86.13 588.91" stroke="#111" stroke-width="1.63" stroke-linecap="round"/>
<path d="M94.75 587.92L94.75 591.88M96.47 588.91L93.03 590.89M96.47 590.89L93.03 588.91" stroke="#111" stroke-width="1.63" stroke-linecap="round"/>
<path d="M101.65 587.92L101.65 591.88M103.37 588.91L99.93 590.89M103.37 590.89L99.93 588.91" stroke="#111" stroke-width="1.63" stroke-linecap="round"/>
<line x1="191" y1="607.5" x2="207.6" y2="607.5" stroke="#333" stroke-width="1.1"/>
<path d="M188.95 598.62L188.95 602.58M190.67 599.61L187.23 601.59M190.67 601.59L187.23 599.61" stroke="#111" stroke-width="1.63" stroke-linecap="round"/>
<path d="M195.85 598.62L195.85 602.58M197.57 599.61L194.13 601.59M197.57 601.59L194.13 599.61" stroke="#111" stroke-width="1.63" stroke-linecap="round"/>
<path d="M202.75 598.62L202.75 602.58M204.47 599.61L201.03 601.59M204.47 601.59L201.03 599.61" stroke="#111" stroke-width="1.63" stroke-linecap="round"/>
<path d="M209.65 598.62L209.65 602.58M211.37 599.61L207.93 601.59M211.37 601.59L207.93 599.61" stroke="#111" stroke-width="1.63" stroke-linecap="round"/>
<line x1="254.7" y1="597.5" x2="272.1" y2="597.5" stroke="#333" stroke-width="1.1"/>
<path d="M259.95 588.72L259.95 592.68M261.67 589.71L258.23 591.69M261.67 591.69L258.23 589.71" stroke="#111" stroke-width="1.63" stroke-linecap="round"/>
<path d="M266.85 588.72L266.85 592.68M268.57 589.71L265.13 591.69M268.57 591.69L265.13 589.71" stroke="#111" stroke-width="1.63" stroke-linecap="round"/>
<line x1="305.3" y1="578.5" x2="376" y2="578.5" stroke="#333" stroke-width="1.1"/>
<path d="M337.2 570.32L337.2 574.28M338.92 571.31L335.48 573.29M338.92 573.29L335.48 571.31" stroke="#111" stroke-width="1.63" stroke-linecap="round"/>
<path d="M344.1 570.32L344.1 574.28M345.82 571.31L342.38 573.29M345.82 573.29L342.38 571.31" stroke="#111" stroke-width="1.63" stroke-linecap="round"/>
<line x1="306" y1="592.5" x2="347" y2="592.5" stroke="#333" stroke-width="1.1"/>
<path d="M323.05 584.02L323.05 587.98M324.77 585.01L321.33 586.99M324.77 586.99L321.33 585.01" stroke="#111" stroke-width="1.63" stroke-linecap="round"/>
<path d="M329.95 584.02L329.95 587.98M331.67 585.01L328.23 586.99M331.67 586.99L328.23 585.01" stroke="#111" stroke-width="1.63" stroke-linecap="round"/>
<line x1="294.4" y1="608.5" x2="313" y2="608.5" stroke="#333" stroke-width="1.1"/>
<path d="M296.8 599.42L296.8 603.38M298.52 600.41L295.08 602.39M298.52 602.39L295.08 600.41" stroke="#111" stroke-width="1.63" stroke-linecap="round"/>
<path d="M303.7 599.42L303.7 603.38M305.42 600.41L301.98 602.39M305.42 602.39L301.98 600.41" stroke="#111" stroke-width="1.63" stroke-linecap="round"/>
<path d="M310.6 599.42L310.6 603.38M312.32 600.41L308.88 602.39M312.32 602.39L308.88 600.41" stroke="#111" stroke-width="1.63" stroke-linecap="round"/>
<line x1="326.6" y1="608.5" x2="345" y2="608.5" stroke="#333" stroke-width="1.1"/>
<path d="M332.35 599.42L332.35 603.38M334.07 600.41L330.63 602.39M334.07 602.39L330.63 600.41" stroke="#111" stroke-width="1.63" stroke-linecap="round"/>
<path d="M339.25 599.42L339.25 603.38M340.97 600.41L337.53 602.39M340.97 602.39L337.53 600.41" stroke="#111" stroke-width="1.63" stroke-linecap="round"/>
<line x1="397.9" y1="598.5" x2="432.6" y2="598.5" stroke="#333" stroke-width="1.1"/>
<path d="M415.25 589.42L415.25 593.38M416.97 590.41L413.53 592.39M416.97 592.39L413.53 590.41" stroke="#111" stroke-width="1.63" stroke-linecap="round"/>
<line x1="506.4" y1="606.5" x2="523" y2="606.5" stroke="#333" stroke-width="1.1"/>
<path d="M514.7 597.92L514.7 601.88M516.42 598.91L512.98 600.89M516.42 600.89L512.98 598.91" stroke="#111" stroke-width="1.63" stroke-linecap="round"/>
<line x1="536.6" y1="605.5" x2="555.2" y2="605.5" stroke="#333" stroke-width="1.1"/>
<path d="M545.9 596.62L545.9 600.58M547.62 597.61L544.18 599.59M547.62 599.59L544.18 597.61" stroke="#111" stroke-width="1.63" stroke-linecap="round"/>
<line x1="568.9" y1="605.5" x2="586.3" y2="605.5" stroke="#333" stroke-width="1.1"/>
<path d="M577.6 597.12L577.6 601.08M579.32 598.11L575.88 600.09M579.32 600.09L575.88 598.11" stroke="#111" stroke-width="1.63" stroke-linecap="round"/>
<text x="311.95" y="679.8" font-size="9.8" font-weight="bold" fill="#111" textLength="47.41" lengthAdjust="spacingAndGlyphs">Cisplatin</text>
<circle cx="449.8" cy="480.6" r="1.45" fill="#fff" stroke="#2b3590" stroke-width="1"/>
<text x="462.55" y="484.1" font-size="9.6" fill="#222" textLength="25.69" lengthAdjust="spacingAndGlyphs" stroke="#222" stroke-width="0.15">A549</text>
<rect x="448.3" y="492.7" width="3" height="3" fill="#fff" stroke="#e4572e" stroke-width="1"/>
<text x="462.55" y="497.7" font-size="9.6" fill="#222" textLength="52.09" lengthAdjust="spacingAndGlyphs" stroke="#222" stroke-width="0.15">A549/DDP</text>
<circle cx="449.8" cy="507.7" r="1.7" fill="#2b3590"/>
<text x="462.55" y="511.2" font-size="9.6" fill="#222" textLength="98.79" lengthAdjust="spacingAndGlyphs" stroke="#222" stroke-width="0.15">A549 Cisplatin 10μm</text>
<rect x="448.25" y="519.55" width="3.1" height="3.1" fill="#e4572e"/>
<text x="462.55" y="524.6" font-size="9.6" fill="#222" textLength="124.99" lengthAdjust="spacingAndGlyphs" stroke="#222" stroke-width="0.15">A549/DDP Cisplatin 10μm</text>
<circle cx="449.8" cy="534.6" r="1.7" fill="#2b3590"/>
<text x="462.55" y="538.1" font-size="9.6" fill="#222" textLength="98.79" lengthAdjust="spacingAndGlyphs" stroke="#222" stroke-width="0.15">A549 Cisplatin 20μm</text>
<rect x="448.25" y="546.35" width="3.1" height="3.1" fill="#e4572e"/>
<text x="462.55" y="551.4" font-size="9.6" fill="#222" textLength="124.99" lengthAdjust="spacingAndGlyphs" stroke="#222" stroke-width="0.15">A549/DDP Cisplatin 20μm</text>
<text x="-0.2" y="699.9" font-size="14.2" fill="#111" stroke="#111" stroke-width="0.15">H</text>
<line x1="27.7" y1="724.8" x2="27.7" y2="820.3" stroke="#222" stroke-width="1.2"/>
<line x1="23.9" y1="819.7" x2="27.7" y2="819.7" stroke="#333" stroke-width="1.05"/>
<text x="18.22" y="822" font-size="6.3" fill="#222" textLength="3.9" lengthAdjust="spacingAndGlyphs" stroke="#222" stroke-width="0.15">0</text>
<line x1="23.9" y1="800.84" x2="27.7" y2="800.84" stroke="#333" stroke-width="1.05"/>
<text x="14.77" y="803.14" font-size="6.3" fill="#222" textLength="7.35" lengthAdjust="spacingAndGlyphs" stroke="#222" stroke-width="0.15">10</text>
<line x1="23.9" y1="781.98" x2="27.7" y2="781.98" stroke="#333" stroke-width="1.05"/>
<text x="14.77" y="784.28" font-size="6.3" fill="#222" textLength="7.35" lengthAdjust="spacingAndGlyphs" stroke="#222" stroke-width="0.15">20</text>
<line x1="23.9" y1="763.12" x2="27.7" y2="763.12" stroke="#333" stroke-width="1.05"/>
<text x="14.77" y="765.42" font-size="6.3" fill="#222" textLength="7.35" lengthAdjust="spacingAndGlyphs" stroke="#222" stroke-width="0.15">30</text>
<line x1="23.9" y1="744.26" x2="27.7" y2="744.26" stroke="#333" stroke-width="1.05"/>
<text x="14.77" y="746.56" font-size="6.3" fill="#222" textLength="7.35" lengthAdjust="spacingAndGlyphs" stroke="#222" stroke-width="0.15">40</text>
<line x1="23.9" y1="725.4" x2="27.7" y2="725.4" stroke="#333" stroke-width="1.05"/>
<text x="14.77" y="727.7" font-size="6.3" fill="#222" textLength="7.35" lengthAdjust="spacingAndGlyphs" stroke="#222" stroke-width="0.15">50</text>
<text x="9.5" y="772.15" font-size="7.5" text-anchor="middle" fill="#111" transform="rotate(-90 9.5 772.15)" textLength="47.5" lengthAdjust="spacingAndGlyphs" stroke="#111" stroke-width="0.35">Relative ROS</text>
<line x1="23.9" y1="819.7" x2="123.3" y2="819.7" stroke="#222" stroke-width="1.2"/>
<path d="M32.8 819.7V807.75H39.4V819.7" fill="#fff" stroke="#333" stroke-width="1"/>
<path d="M44.7 819.7V804.73H52.2V819.7" fill="#fff" stroke="#e84a4a" stroke-width="1"/>
<line x1="32.7" y1="807.75" x2="39.5" y2="807.75" stroke="#111" stroke-width="1"/>
<line x1="44.6" y1="804.73" x2="52.3" y2="804.73" stroke="#111" stroke-width="1"/>
<circle cx="33.9" cy="807.45" r="1.05" fill="#000"/>
<path d="M46.25 803.43L47.35 805.41L45.15 805.41Z" fill="#000"/>
<circle cx="36.1" cy="807.45" r="1.05" fill="#000"/>
<path d="M48.45 803.43L49.55 805.41L47.35 805.41Z" fill="#000"/>
<circle cx="38.3" cy="807.45" r="1.05" fill="#000"/>
<path d="M50.65 803.43L51.75 805.41L49.55 805.41Z" fill="#000"/>
<line x1="42" y1="819.7" x2="42" y2="823.1" stroke="#222" stroke-width="1.1"/>
<text x="43.6" y="831.5" font-size="6.9" font-weight="bold" text-anchor="end" fill="#111" transform="rotate(-45 43.6 831.5)" stroke="#111" stroke-width="0.2">Control</text>
<path d="M65.5 819.7V762.49H72.7V819.7" fill="#fff" stroke="#333" stroke-width="1"/>
<path d="M77.4 819.7V745.51H85.1V819.7" fill="#fff" stroke="#e84a4a" stroke-width="1"/>
<line x1="65.4" y1="762.49" x2="72.8" y2="762.49" stroke="#111" stroke-width="1"/>
<line x1="77.3" y1="745.51" x2="85.2" y2="745.51" stroke="#111" stroke-width="1"/>
<circle cx="66.9" cy="762.19" r="1.05" fill="#000"/>
<path d="M79.05 744.21L80.15 746.19L77.95 746.19Z" fill="#000"/>
<circle cx="69.1" cy="762.19" r="1.05" fill="#000"/>
<path d="M81.25 744.21L82.35 746.19L80.15 746.19Z" fill="#000"/>
<circle cx="71.3" cy="762.19" r="1.05" fill="#000"/>
<path d="M83.45 744.21L84.55 746.19L82.35 746.19Z" fill="#000"/>
<line x1="74.9" y1="819.7" x2="74.9" y2="823.1" stroke="#222" stroke-width="1.1"/>
<text x="76.5" y="831.5" font-size="6.9" font-weight="bold" text-anchor="end" fill="#111" transform="rotate(-45 76.5 831.5)" stroke="#111" stroke-width="0.2">Cisplatin</text>
<path d="M98.8 819.7V781.54H105.7V819.7" fill="#fff" stroke="#333" stroke-width="1"/>
<path d="M110.9 819.7V761.17H118.1V819.7" fill="#fff" stroke="#e84a4a" stroke-width="1"/>
<line x1="98.7" y1="781.54" x2="105.8" y2="781.54" stroke="#111" stroke-width="1"/>
<line x1="110.8" y1="761.17" x2="118.2" y2="761.17" stroke="#111" stroke-width="1"/>
<circle cx="100.05" cy="781.24" r="1.05" fill="#000"/>
<path d="M112.3 759.87L113.4 761.85L111.2 761.85Z" fill="#000"/>
<circle cx="102.25" cy="781.24" r="1.05" fill="#000"/>
<path d="M114.5 759.87L115.6 761.85L113.4 761.85Z" fill="#000"/>
<circle cx="104.45" cy="781.24" r="1.05" fill="#000"/>
<path d="M116.7 759.87L117.8 761.85L115.6 761.85Z" fill="#000"/>
<line x1="107.7" y1="819.7" x2="107.7" y2="823.1" stroke="#222" stroke-width="1.1"/>
<text x="109.3" y="831.5" font-size="6.9" font-weight="bold" text-anchor="end" fill="#111" transform="rotate(-45 109.3 831.5)" stroke="#111" stroke-width="0.2">Cisplatin+CoPP</text>
<line x1="69" y1="741.4" x2="81.4" y2="741.4" stroke="#999" stroke-width="1"/>
<path d="M69.95 735.02L69.95 737.18M70.89 735.56L69.01 736.64M70.89 736.64L69.01 735.56" stroke="#111" stroke-width="0.89" stroke-linecap="round"/>
<path d="M73.45 735.02L73.45 737.18M74.39 735.56L72.51 736.64M74.39 736.64L72.51 735.56" stroke="#111" stroke-width="0.89" stroke-linecap="round"/>
<path d="M76.95 735.02L76.95 737.18M77.89 735.56L76.01 736.64M77.89 736.64L76.01 735.56" stroke="#111" stroke-width="0.89" stroke-linecap="round"/>
<path d="M80.45 735.02L80.45 737.18M81.39 735.56L79.51 736.64M81.39 736.64L79.51 735.56" stroke="#111" stroke-width="0.89" stroke-linecap="round"/>
<line x1="69" y1="731.1" x2="102.1" y2="731.1" stroke="#999" stroke-width="1"/>
<path d="M80.3 724.72L80.3 726.88M81.24 725.26L79.36 726.34M81.24 726.34L79.36 725.26" stroke="#111" stroke-width="0.89" stroke-linecap="round"/>
<path d="M83.8 724.72L83.8 726.88M84.74 725.26L82.86 726.34M84.74 726.34L82.86 725.26" stroke="#111" stroke-width="0.89" stroke-linecap="round"/>
<path d="M87.3 724.72L87.3 726.88M88.24 725.26L86.36 726.34M88.24 726.34L86.36 725.26" stroke="#111" stroke-width="0.89" stroke-linecap="round"/>
<path d="M90.8 724.72L90.8 726.88M91.74 725.26L89.86 726.34M91.74 726.34L89.86 725.26" stroke="#111" stroke-width="0.89" stroke-linecap="round"/>
<line x1="81.8" y1="720" x2="114.1" y2="720" stroke="#999" stroke-width="1"/>
<path d="M92.7 713.62L92.7 715.78M93.64 714.16L91.76 715.24M93.64 715.24L91.76 714.16" stroke="#111" stroke-width="0.89" stroke-linecap="round"/>
<path d="M96.2 713.62L96.2 715.78M97.14 714.16L95.26 715.24M97.14 715.24L95.26 714.16" stroke="#111" stroke-width="0.89" stroke-linecap="round"/>
<path d="M99.7 713.62L99.7 715.78M100.64 714.16L98.76 715.24M100.64 715.24L98.76 714.16" stroke="#111" stroke-width="0.89" stroke-linecap="round"/>
<path d="M103.2 713.62L103.2 715.78M104.14 714.16L102.26 715.24M104.14 715.24L102.26 714.16" stroke="#111" stroke-width="0.89" stroke-linecap="round"/>
<line x1="101.7" y1="757.3" x2="114.6" y2="757.3" stroke="#999" stroke-width="1"/>
<path d="M102.9 750.92L102.9 753.08M103.84 751.46L101.96 752.54M103.84 752.54L101.96 751.46" stroke="#111" stroke-width="0.89" stroke-linecap="round"/>
<path d="M106.4 750.92L106.4 753.08M107.34 751.46L105.46 752.54M107.34 752.54L105.46 751.46" stroke="#111" stroke-width="0.89" stroke-linecap="round"/>
<path d="M109.9 750.92L109.9 753.08M110.84 751.46L108.96 752.54M110.84 752.54L108.96 751.46" stroke="#111" stroke-width="0.89" stroke-linecap="round"/>
<path d="M113.4 750.92L113.4 753.08M114.34 751.46L112.46 752.54M114.34 752.54L112.46 751.46" stroke="#111" stroke-width="0.89" stroke-linecap="round"/>
<circle cx="130.9" cy="732" r="1.15" fill="#000"/>
<text x="141.64" y="734.2" font-size="7.3" fill="#222" textLength="22.83" lengthAdjust="spacingAndGlyphs" stroke="#222" stroke-width="0.15">shCon</text>
<path d="M130.9 743.55L132.05 745.62L129.75 745.62Z" fill="#000"/>
<text x="141.64" y="746.8" font-size="7.3" fill="#222" textLength="23.73" lengthAdjust="spacingAndGlyphs" stroke="#222" stroke-width="0.15">shNrf2</text>
<text x="170.7" y="701.4" font-size="14.2" fill="#111" stroke="#111" stroke-width="0.15">I</text>
<line x1="204.5" y1="730.7" x2="204.5" y2="822.1" stroke="#222" stroke-width="1.2"/>
<line x1="200.7" y1="821.5" x2="204.5" y2="821.5" stroke="#333" stroke-width="1.05"/>
<text x="189.56" y="823.8" font-size="6.4" font-weight="bold" fill="#222" textLength="9.77" lengthAdjust="spacingAndGlyphs" stroke="#222" stroke-width="0.2">0.0</text>
<line x1="200.7" y1="798.95" x2="204.5" y2="798.95" stroke="#333" stroke-width="1.05"/>
<text x="189.56" y="801.25" font-size="6.4" font-weight="bold" fill="#222" textLength="9.77" lengthAdjust="spacingAndGlyphs" stroke="#222" stroke-width="0.2">0.1</text>
<line x1="200.7" y1="776.4" x2="204.5" y2="776.4" stroke="#333" stroke-width="1.05"/>
<text x="189.56" y="778.7" font-size="6.4" font-weight="bold" fill="#222" textLength="9.77" lengthAdjust="spacingAndGlyphs" stroke="#222" stroke-width="0.2">0.2</text>
<line x1="200.7" y1="753.85" x2="204.5" y2="753.85" stroke="#333" stroke-width="1.05"/>
<text x="189.56" y="756.15" font-size="6.4" font-weight="bold" fill="#222" textLength="9.77" lengthAdjust="spacingAndGlyphs" stroke="#222" stroke-width="0.2">0.3</text>
<line x1="200.7" y1="731.3" x2="204.5" y2="731.3" stroke="#333" stroke-width="1.05"/>
<text x="189.56" y="733.6" font-size="6.4" font-weight="bold" fill="#222" textLength="9.77" lengthAdjust="spacingAndGlyphs" stroke="#222" stroke-width="0.2">0.4</text>
<text x="186" y="778.45" font-size="8.4" font-weight="bold" text-anchor="middle" fill="#111" transform="rotate(-90 186 778.45)" textLength="77.7" lengthAdjust="spacingAndGlyphs" stroke="#111" stroke-width="0.25">MDA ( μmol/mg · 10<tspan baseline-shift="super" font-size="5.5">-3</tspan>)</text>
<line x1="200.7" y1="821.5" x2="294.6" y2="821.5" stroke="#222" stroke-width="1.2"/>
<path d="M208.2 821.5V818.62H215.4V821.5" fill="#fff" stroke="#333" stroke-width="1"/>
<path d="M220.1 821.5V814.11H227.3V821.5" fill="#fff" stroke="#e84a4a" stroke-width="1"/>
<line x1="208.1" y1="818.62" x2="215.5" y2="818.62" stroke="#111" stroke-width="1"/>
<line x1="220" y1="814.11" x2="227.4" y2="814.11" stroke="#111" stroke-width="1"/>
<circle cx="209.6" cy="818.32" r="1.05" fill="#000"/>
<path d="M221.5 812.81L222.6 814.79L220.4 814.79Z" fill="#000"/>
<circle cx="211.8" cy="818.32" r="1.05" fill="#000"/>
<path d="M223.7 812.81L224.8 814.79L222.6 814.79Z" fill="#000"/>
<circle cx="214" cy="818.32" r="1.05" fill="#000"/>
<path d="M225.9 812.81L227 814.79L224.8 814.79Z" fill="#000"/>
<line x1="217.8" y1="821.5" x2="217.8" y2="824.9" stroke="#222" stroke-width="1.1"/>
<text x="219.4" y="833.3" font-size="6.9" font-weight="bold" text-anchor="end" fill="#111" transform="rotate(-45 219.4 833.3)" stroke="#111" stroke-width="0.2">Control</text>
<path d="M240 821.5V763.37H247.2V821.5" fill="#fff" stroke="#333" stroke-width="1"/>
<path d="M251.1 821.5V740.82H258.3V821.5" fill="#fff" stroke="#e84a4a" stroke-width="1"/>
<line x1="239.9" y1="763.37" x2="247.3" y2="763.37" stroke="#111" stroke-width="1"/>
<line x1="251" y1="740.82" x2="258.4" y2="740.82" stroke="#111" stroke-width="1"/>
<circle cx="241.4" cy="763.07" r="1.05" fill="#000"/>
<path d="M252.5 739.52L253.6 741.5L251.4 741.5Z" fill="#000"/>
<circle cx="243.6" cy="763.07" r="1.05" fill="#000"/>
<path d="M254.7 739.52L255.8 741.5L253.6 741.5Z" fill="#000"/>
<circle cx="245.8" cy="763.07" r="1.05" fill="#000"/>
<path d="M256.9 739.52L258 741.5L255.8 741.5Z" fill="#000"/>
<line x1="249.2" y1="821.5" x2="249.2" y2="824.9" stroke="#222" stroke-width="1.1"/>
<text x="250.8" y="833.3" font-size="6.9" font-weight="bold" text-anchor="end" fill="#111" transform="rotate(-45 250.8 833.3)" stroke="#111" stroke-width="0.2">Cisplatin</text>
<path d="M271.5 821.5V776.9H278.2V821.5" fill="#fff" stroke="#333" stroke-width="1"/>
<path d="M282.9 821.5V754.35H290.1V821.5" fill="#fff" stroke="#e84a4a" stroke-width="1"/>
<line x1="271.4" y1="776.9" x2="278.3" y2="776.9" stroke="#111" stroke-width="1"/>
<line x1="282.8" y1="754.35" x2="290.2" y2="754.35" stroke="#111" stroke-width="1"/>
<circle cx="272.65" cy="776.6" r="1.05" fill="#000"/>
<path d="M284.3 753.05L285.4 755.03L283.2 755.03Z" fill="#000"/>
<circle cx="274.85" cy="776.6" r="1.05" fill="#000"/>
<path d="M286.5 753.05L287.6 755.03L285.4 755.03Z" fill="#000"/>
<circle cx="277.05" cy="776.6" r="1.05" fill="#000"/>
<path d="M288.7 753.05L289.8 755.03L287.6 755.03Z" fill="#000"/>
<line x1="280.8" y1="821.5" x2="280.8" y2="824.9" stroke="#222" stroke-width="1.1"/>
<text x="282.4" y="833.3" font-size="6.9" font-weight="bold" text-anchor="end" fill="#111" transform="rotate(-45 282.4 833.3)" stroke="#111" stroke-width="0.2">Cisplatin+CoPP</text>
<line x1="242.7" y1="736.6" x2="255.1" y2="736.6" stroke="#999" stroke-width="1"/>
<path d="M243.65 730.22L243.65 732.38M244.59 730.76L242.71 731.84M244.59 731.84L242.71 730.76" stroke="#111" stroke-width="0.89" stroke-linecap="round"/>
<path d="M247.15 730.22L247.15 732.38M248.09 730.76L246.21 731.84M248.09 731.84L246.21 730.76" stroke="#111" stroke-width="0.89" stroke-linecap="round"/>
<path d="M250.65 730.22L250.65 732.38M251.59 730.76L249.71 731.84M251.59 731.84L249.71 730.76" stroke="#111" stroke-width="0.89" stroke-linecap="round"/>
<path d="M254.15 730.22L254.15 732.38M255.09 730.76L253.21 731.84M255.09 731.84L253.21 730.76" stroke="#111" stroke-width="0.89" stroke-linecap="round"/>
<line x1="242.7" y1="726.5" x2="274.7" y2="726.5" stroke="#999" stroke-width="1"/>
<path d="M255.2 720.12L255.2 722.28M256.14 720.66L254.26 721.74M256.14 721.74L254.26 720.66" stroke="#111" stroke-width="0.89" stroke-linecap="round"/>
<path d="M258.7 720.12L258.7 722.28M259.64 720.66L257.76 721.74M259.64 721.74L257.76 720.66" stroke="#111" stroke-width="0.89" stroke-linecap="round"/>
<path d="M262.2 720.12L262.2 722.28M263.14 720.66L261.26 721.74M263.14 721.74L261.26 720.66" stroke="#111" stroke-width="0.89" stroke-linecap="round"/>
<line x1="255.6" y1="715.6" x2="286.6" y2="715.6" stroke="#999" stroke-width="1"/>
<path d="M267.6 709.22L267.6 711.38M268.54 709.76L266.66 710.84M268.54 710.84L266.66 709.76" stroke="#111" stroke-width="0.89" stroke-linecap="round"/>
<path d="M271.1 709.22L271.1 711.38M272.04 709.76L270.16 710.84M272.04 710.84L270.16 709.76" stroke="#111" stroke-width="0.89" stroke-linecap="round"/>
<path d="M274.6 709.22L274.6 711.38M275.54 709.76L273.66 710.84M275.54 710.84L273.66 709.76" stroke="#111" stroke-width="0.89" stroke-linecap="round"/>
<line x1="274.7" y1="750.3" x2="286.6" y2="750.3" stroke="#999" stroke-width="1"/>
<path d="M275.4 743.92L275.4 746.08M276.34 744.46L274.46 745.54M276.34 745.54L274.46 744.46" stroke="#111" stroke-width="0.89" stroke-linecap="round"/>
<path d="M278.9 743.92L278.9 746.08M279.84 744.46L277.96 745.54M279.84 745.54L277.96 744.46" stroke="#111" stroke-width="0.89" stroke-linecap="round"/>
<path d="M282.4 743.92L282.4 746.08M283.34 744.46L281.46 745.54M283.34 745.54L281.46 744.46" stroke="#111" stroke-width="0.89" stroke-linecap="round"/>
<path d="M285.9 743.92L285.9 746.08M286.84 744.46L284.96 745.54M286.84 745.54L284.96 744.46" stroke="#111" stroke-width="0.89" stroke-linecap="round"/>
<circle cx="304" cy="736.6" r="1.15" fill="#000"/>
<text x="314.74" y="738.8" font-size="7.3" fill="#222" textLength="22.83" lengthAdjust="spacingAndGlyphs" stroke="#222" stroke-width="0.15">shCon</text>
<path d="M304 748.15L305.15 750.22L302.85 750.22Z" fill="#000"/>
<text x="314.74" y="751.4" font-size="7.3" fill="#222" textLength="23.73" lengthAdjust="spacingAndGlyphs" stroke="#222" stroke-width="0.15">shNrf2</text>
<text x="342.3" y="701.6" font-size="14.2" fill="#111" stroke="#111" stroke-width="0.15">J</text>
<line x1="369.3" y1="727.9" x2="369.3" y2="822.1" stroke="#222" stroke-width="1.2"/>
<line x1="365.5" y1="821.5" x2="369.3" y2="821.5" stroke="#333" stroke-width="1.05"/>
<text x="360.22" y="823.8" font-size="6.4" font-weight="bold" fill="#222" textLength="3.91" lengthAdjust="spacingAndGlyphs" stroke="#222" stroke-width="0.2">0</text>
<line x1="365.5" y1="798.25" x2="369.3" y2="798.25" stroke="#333" stroke-width="1.05"/>
<text x="360.22" y="800.55" font-size="6.4" font-weight="bold" fill="#222" textLength="3.91" lengthAdjust="spacingAndGlyphs" stroke="#222" stroke-width="0.2">5</text>
<line x1="365.5" y1="775" x2="369.3" y2="775" stroke="#333" stroke-width="1.05"/>
<text x="356.77" y="777.3" font-size="6.4" font-weight="bold" fill="#222" textLength="7.36" lengthAdjust="spacingAndGlyphs" stroke="#222" stroke-width="0.2">10</text>
<line x1="365.5" y1="751.75" x2="369.3" y2="751.75" stroke="#333" stroke-width="1.05"/>
<text x="356.77" y="754.05" font-size="6.4" font-weight="bold" fill="#222" textLength="7.36" lengthAdjust="spacingAndGlyphs" stroke="#222" stroke-width="0.2">15</text>
<line x1="365.5" y1="728.5" x2="369.3" y2="728.5" stroke="#333" stroke-width="1.05"/>
<text x="356.77" y="730.8" font-size="6.4" font-weight="bold" fill="#222" textLength="7.36" lengthAdjust="spacingAndGlyphs" stroke="#222" stroke-width="0.2">20</text>
<text x="351.8" y="774.45" font-size="8.4" font-weight="bold" text-anchor="middle" fill="#111" transform="rotate(-90 351.8 774.45)" textLength="33.3" lengthAdjust="spacingAndGlyphs" stroke="#111" stroke-width="0.25">GSH(μM)</text>
<line x1="365.5" y1="821.5" x2="463.3" y2="821.5" stroke="#222" stroke-width="1.2"/>
<path d="M374.1 821.5V742.95H381V821.5" fill="#fff" stroke="#333" stroke-width="1"/>
<path d="M386 821.5V765.74H392.8V821.5" fill="#fff" stroke="#e84a4a" stroke-width="1"/>
<line x1="374" y1="742.95" x2="381.1" y2="742.95" stroke="#111" stroke-width="1"/>
<line x1="385.9" y1="765.74" x2="392.9" y2="765.74" stroke="#111" stroke-width="1"/>
<circle cx="375.35" cy="742.65" r="1.05" fill="#000"/>
<path d="M387.2 764.43L388.3 766.41L386.1 766.41Z" fill="#000"/>
<circle cx="377.55" cy="742.65" r="1.05" fill="#000"/>
<path d="M389.4 764.43L390.5 766.41L388.3 766.41Z" fill="#000"/>
<circle cx="379.75" cy="742.65" r="1.05" fill="#000"/>
<path d="M391.6 764.43L392.7 766.41L390.5 766.41Z" fill="#000"/>
<line x1="383.4" y1="821.5" x2="383.4" y2="824.9" stroke="#222" stroke-width="1.1"/>
<text x="385" y="833.3" font-size="6.9" font-weight="bold" text-anchor="end" fill="#111" transform="rotate(-45 385 833.3)" stroke="#111" stroke-width="0.2">Control</text>
<path d="M406.3 821.5V775.97H413.4V821.5" fill="#fff" stroke="#333" stroke-width="1"/>
<path d="M418.2 821.5V787.59H425.4V821.5" fill="#fff" stroke="#e84a4a" stroke-width="1"/>
<line x1="406.2" y1="775.97" x2="413.5" y2="775.97" stroke="#111" stroke-width="1"/>
<line x1="418.1" y1="787.59" x2="425.5" y2="787.59" stroke="#111" stroke-width="1"/>
<circle cx="407.65" cy="775.67" r="1.05" fill="#000"/>
<path d="M419.6 786.29L420.7 788.27L418.5 788.27Z" fill="#000"/>
<circle cx="409.85" cy="775.67" r="1.05" fill="#000"/>
<path d="M421.8 786.29L422.9 788.27L420.7 788.27Z" fill="#000"/>
<circle cx="412.05" cy="775.67" r="1.05" fill="#000"/>
<path d="M424 786.29L425.1 788.27L422.9 788.27Z" fill="#000"/>
<line x1="415.9" y1="821.5" x2="415.9" y2="824.9" stroke="#222" stroke-width="1.1"/>
<text x="417.5" y="833.3" font-size="6.9" font-weight="bold" text-anchor="end" fill="#111" transform="rotate(-45 417.5 833.3)" stroke="#111" stroke-width="0.2">Cisplatin</text>
<path d="M439 821.5V769.92H446.2V821.5" fill="#fff" stroke="#333" stroke-width="1"/>
<path d="M450.9 821.5V778.75H458.1V821.5" fill="#fff" stroke="#e84a4a" stroke-width="1"/>
<line x1="438.9" y1="769.92" x2="446.3" y2="769.92" stroke="#111" stroke-width="1"/>
<line x1="450.8" y1="778.75" x2="458.2" y2="778.75" stroke="#111" stroke-width="1"/>
<circle cx="440.4" cy="769.62" r="1.05" fill="#000"/>
<path d="M452.3 777.45L453.4 779.43L451.2 779.43Z" fill="#000"/>
<circle cx="442.6" cy="769.62" r="1.05" fill="#000"/>
<path d="M454.5 777.45L455.6 779.43L453.4 779.43Z" fill="#000"/>
<circle cx="444.8" cy="769.62" r="1.05" fill="#000"/>
<path d="M456.7 777.45L457.8 779.43L455.6 779.43Z" fill="#000"/>
<line x1="448.6" y1="821.5" x2="448.6" y2="824.9" stroke="#222" stroke-width="1.1"/>
<text x="450.2" y="833.3" font-size="6.9" font-weight="bold" text-anchor="end" fill="#111" transform="rotate(-45 450.2 833.3)" stroke="#111" stroke-width="0.2">Cisplatin+CoPP</text>
<line x1="409.5" y1="771.9" x2="421.9" y2="771.9" stroke="#999" stroke-width="1"/>
<path d="M410.45 765.52L410.45 767.68M411.39 766.06L409.51 767.14M411.39 767.14L409.51 766.06" stroke="#111" stroke-width="0.89" stroke-linecap="round"/>
<path d="M413.95 765.52L413.95 767.68M414.89 766.06L413.01 767.14M414.89 767.14L413.01 766.06" stroke="#111" stroke-width="0.89" stroke-linecap="round"/>
<path d="M417.45 765.52L417.45 767.68M418.39 766.06L416.51 767.14M418.39 767.14L416.51 766.06" stroke="#111" stroke-width="0.89" stroke-linecap="round"/>
<path d="M420.95 765.52L420.95 767.68M421.89 766.06L420.01 767.14M421.89 767.14L420.01 766.06" stroke="#111" stroke-width="0.89" stroke-linecap="round"/>
<line x1="409.5" y1="756.5" x2="441.7" y2="756.5" stroke="#999" stroke-width="1"/>
<path d="M420.35 750.12L420.35 752.28M421.29 750.66L419.41 751.74M421.29 751.74L419.41 750.66" stroke="#111" stroke-width="0.89" stroke-linecap="round"/>
<path d="M423.85 750.12L423.85 752.28M424.79 750.66L422.91 751.74M424.79 751.74L422.91 750.66" stroke="#111" stroke-width="0.89" stroke-linecap="round"/>
<path d="M427.35 750.12L427.35 752.28M428.29 750.66L426.41 751.74M428.29 751.74L426.41 750.66" stroke="#111" stroke-width="0.89" stroke-linecap="round"/>
<path d="M430.85 750.12L430.85 752.28M431.79 750.66L429.91 751.74M431.79 751.74L429.91 750.66" stroke="#111" stroke-width="0.89" stroke-linecap="round"/>
<line x1="422.4" y1="742.9" x2="454.6" y2="742.9" stroke="#999" stroke-width="1"/>
<path d="M433.25 736.52L433.25 738.68M434.19 737.06L432.31 738.14M434.19 738.14L432.31 737.06" stroke="#111" stroke-width="0.89" stroke-linecap="round"/>
<path d="M436.75 736.52L436.75 738.68M437.69 737.06L435.81 738.14M437.69 738.14L435.81 737.06" stroke="#111" stroke-width="0.89" stroke-linecap="round"/>
<path d="M440.25 736.52L440.25 738.68M441.19 737.06L439.31 738.14M441.19 738.14L439.31 737.06" stroke="#111" stroke-width="0.89" stroke-linecap="round"/>
<path d="M443.75 736.52L443.75 738.68M444.69 737.06L442.81 738.14M444.69 738.14L442.81 737.06" stroke="#111" stroke-width="0.89" stroke-linecap="round"/>
<line x1="442.2" y1="765.7" x2="454.1" y2="765.7" stroke="#999" stroke-width="1"/>
<path d="M442.9 759.32L442.9 761.48M443.84 759.86L441.96 760.94M443.84 760.94L441.96 759.86" stroke="#111" stroke-width="0.89" stroke-linecap="round"/>
<path d="M446.4 759.32L446.4 761.48M447.34 759.86L445.46 760.94M447.34 760.94L445.46 759.86" stroke="#111" stroke-width="0.89" stroke-linecap="round"/>
<path d="M449.9 759.32L449.9 761.48M450.84 759.86L448.96 760.94M450.84 760.94L448.96 759.86" stroke="#111" stroke-width="0.89" stroke-linecap="round"/>
<path d="M453.4 759.32L453.4 761.48M454.34 759.86L452.46 760.94M454.34 760.94L452.46 759.86" stroke="#111" stroke-width="0.89" stroke-linecap="round"/>
<circle cx="472.8" cy="734.7" r="1.15" fill="#000"/>
<text x="483.54" y="736.9" font-size="7.3" fill="#222" textLength="22.83" lengthAdjust="spacingAndGlyphs" stroke="#222" stroke-width="0.15">shCon</text>
<path d="M472.8 746.25L473.95 748.32L471.65 748.32Z" fill="#000"/>
<text x="483.54" y="749.5" font-size="7.3" fill="#222" textLength="23.73" lengthAdjust="spacingAndGlyphs" stroke="#222" stroke-width="0.15">shNrf2</text>
<text x="525.9" y="703.8" font-size="14.2" fill="#111" stroke="#111" stroke-width="0.15">K</text>
<line x1="546.5" y1="728.8" x2="546.5" y2="822.2" stroke="#222" stroke-width="1.2"/>
<line x1="542.7" y1="821.6" x2="546.5" y2="821.6" stroke="#333" stroke-width="1.05"/>
<text x="537.27" y="823.9" font-size="6.4" fill="#222" textLength="3.66" lengthAdjust="spacingAndGlyphs" stroke="#222" stroke-width="0.15">0</text>
<line x1="542.7" y1="798.55" x2="546.5" y2="798.55" stroke="#333" stroke-width="1.05"/>
<text x="537.27" y="800.85" font-size="6.4" fill="#222" textLength="3.66" lengthAdjust="spacingAndGlyphs" stroke="#222" stroke-width="0.15">1</text>
<line x1="542.7" y1="775.5" x2="546.5" y2="775.5" stroke="#333" stroke-width="1.05"/>
<text x="537.27" y="777.8" font-size="6.4" fill="#222" textLength="3.66" lengthAdjust="spacingAndGlyphs" stroke="#222" stroke-width="0.15">2</text>
<line x1="542.7" y1="752.45" x2="546.5" y2="752.45" stroke="#333" stroke-width="1.05"/>
<text x="537.27" y="754.75" font-size="6.4" fill="#222" textLength="3.66" lengthAdjust="spacingAndGlyphs" stroke="#222" stroke-width="0.15">3</text>
<line x1="542.7" y1="729.4" x2="546.5" y2="729.4" stroke="#333" stroke-width="1.05"/>
<text x="537.27" y="731.7" font-size="6.4" fill="#222" textLength="3.66" lengthAdjust="spacingAndGlyphs" stroke="#222" stroke-width="0.15">4</text>
<text x="532.9" y="774.65" font-size="7.4" text-anchor="middle" fill="#111" transform="rotate(-90 532.9 774.65)" textLength="63.1" lengthAdjust="spacingAndGlyphs" stroke="#111" stroke-width="0.35">Cell viability (OD)</text>
<line x1="542.7" y1="821.6" x2="639" y2="821.6" stroke="#222" stroke-width="1.2"/>
<path d="M551 821.6V744.88H557.7V821.6" fill="#fff" stroke="#333" stroke-width="1"/>
<path d="M563 821.6V760.56H569.7V821.6" fill="#fff" stroke="#e84a4a" stroke-width="1"/>
<line x1="550.9" y1="744.88" x2="557.8" y2="744.88" stroke="#111" stroke-width="1"/>
<line x1="562.9" y1="760.56" x2="569.8" y2="760.56" stroke="#111" stroke-width="1"/>
<circle cx="552.15" cy="744.58" r="1.05" fill="#000"/>
<path d="M564.15 759.26L565.25 761.24L563.05 761.24Z" fill="#000"/>
<circle cx="554.35" cy="744.58" r="1.05" fill="#000"/>
<path d="M566.35 759.26L567.45 761.24L565.25 761.24Z" fill="#000"/>
<circle cx="556.55" cy="744.58" r="1.05" fill="#000"/>
<path d="M568.55 759.26L569.65 761.24L567.45 761.24Z" fill="#000"/>
<line x1="560.1" y1="821.6" x2="560.1" y2="825" stroke="#222" stroke-width="1.1"/>
<text x="561.7" y="833.4" font-size="6.9" font-weight="bold" text-anchor="end" fill="#111" transform="rotate(-45 561.7 833.4)" stroke="#111" stroke-width="0.2">Control</text>
<path d="M583.3 821.6V781.76H590.5V821.6" fill="#fff" stroke="#333" stroke-width="1"/>
<path d="M595.6 821.6V787.06H602.2V821.6" fill="#fff" stroke="#e84a4a" stroke-width="1"/>
<line x1="583.2" y1="781.76" x2="590.6" y2="781.76" stroke="#111" stroke-width="1"/>
<line x1="595.5" y1="787.06" x2="602.3" y2="787.06" stroke="#111" stroke-width="1"/>
<circle cx="584.7" cy="781.46" r="1.05" fill="#000"/>
<path d="M596.7 785.76L597.8 787.74L595.6 787.74Z" fill="#000"/>
<circle cx="586.9" cy="781.46" r="1.05" fill="#000"/>
<path d="M598.9 785.76L600 787.74L597.8 787.74Z" fill="#000"/>
<circle cx="589.1" cy="781.46" r="1.05" fill="#000"/>
<path d="M601.1 785.76L602.2 787.74L600 787.74Z" fill="#000"/>
<line x1="592.8" y1="821.6" x2="592.8" y2="825" stroke="#222" stroke-width="1.1"/>
<text x="594.4" y="833.4" font-size="6.9" font-weight="bold" text-anchor="end" fill="#111" transform="rotate(-45 594.4 833.4)" stroke="#111" stroke-width="0.2">Cisplatin</text>
<path d="M615.8 821.6V763.09H622.7V821.6" fill="#fff" stroke="#333" stroke-width="1"/>
<path d="M627.5 821.6V772.08H634.7V821.6" fill="#fff" stroke="#e84a4a" stroke-width="1"/>
<line x1="615.7" y1="763.09" x2="622.8" y2="763.09" stroke="#111" stroke-width="1"/>
<line x1="627.4" y1="772.08" x2="634.8" y2="772.08" stroke="#111" stroke-width="1"/>
<circle cx="617.05" cy="762.79" r="1.05" fill="#000"/>
<path d="M628.9 770.78L630 772.76L627.8 772.76Z" fill="#000"/>
<circle cx="619.25" cy="762.79" r="1.05" fill="#000"/>
<path d="M631.1 770.78L632.2 772.76L630 772.76Z" fill="#000"/>
<circle cx="621.45" cy="762.79" r="1.05" fill="#000"/>
<path d="M633.3 770.78L634.4 772.76L632.2 772.76Z" fill="#000"/>
<line x1="625.3" y1="821.6" x2="625.3" y2="825" stroke="#222" stroke-width="1.1"/>
<text x="626.9" y="833.4" font-size="6.9" font-weight="bold" text-anchor="end" fill="#111" transform="rotate(-45 626.9 833.4)" stroke="#111" stroke-width="0.2">Cisplatin+CoPP</text>
<line x1="586.6" y1="778.1" x2="598.1" y2="778.1" stroke="#999" stroke-width="1"/>
<path d="M588.85 771.72L588.85 773.88M589.79 772.26L587.91 773.34M589.79 773.34L587.91 772.26" stroke="#111" stroke-width="0.89" stroke-linecap="round"/>
<path d="M592.35 771.72L592.35 773.88M593.29 772.26L591.41 773.34M593.29 773.34L591.41 772.26" stroke="#111" stroke-width="0.89" stroke-linecap="round"/>
<path d="M595.85 771.72L595.85 773.88M596.79 772.26L594.91 773.34M596.79 773.34L594.91 772.26" stroke="#111" stroke-width="0.89" stroke-linecap="round"/>
<line x1="586.1" y1="749.3" x2="618.6" y2="749.3" stroke="#999" stroke-width="1"/>
<path d="M597.1 742.92L597.1 745.08M598.04 743.46L596.16 744.54M598.04 744.54L596.16 743.46" stroke="#111" stroke-width="0.89" stroke-linecap="round"/>
<path d="M600.6 742.92L600.6 745.08M601.54 743.46L599.66 744.54M601.54 744.54L599.66 743.46" stroke="#111" stroke-width="0.89" stroke-linecap="round"/>
<path d="M604.1 742.92L604.1 745.08M605.04 743.46L603.16 744.54M605.04 744.54L603.16 743.46" stroke="#111" stroke-width="0.89" stroke-linecap="round"/>
<path d="M607.6 742.92L607.6 745.08M608.54 743.46L606.66 744.54M608.54 744.54L606.66 743.46" stroke="#111" stroke-width="0.89" stroke-linecap="round"/>
<line x1="598.1" y1="738.5" x2="630.6" y2="738.5" stroke="#999" stroke-width="1"/>
<path d="M609.1 732.12L609.1 734.28M610.04 732.66L608.16 733.74M610.04 733.74L608.16 732.66" stroke="#111" stroke-width="0.89" stroke-linecap="round"/>
<path d="M612.6 732.12L612.6 734.28M613.54 732.66L611.66 733.74M613.54 733.74L611.66 732.66" stroke="#111" stroke-width="0.89" stroke-linecap="round"/>
<path d="M616.1 732.12L616.1 734.28M617.04 732.66L615.16 733.74M617.04 733.74L615.16 732.66" stroke="#111" stroke-width="0.89" stroke-linecap="round"/>
<path d="M619.6 732.12L619.6 734.28M620.54 732.66L618.66 733.74M620.54 733.74L618.66 732.66" stroke="#111" stroke-width="0.89" stroke-linecap="round"/>
<line x1="619.4" y1="760.3" x2="630.6" y2="760.3" stroke="#999" stroke-width="1"/>
<path d="M619.75 753.92L619.75 756.08M620.69 754.46L618.81 755.54M620.69 755.54L618.81 754.46" stroke="#111" stroke-width="0.89" stroke-linecap="round"/>
<path d="M623.25 753.92L623.25 756.08M624.19 754.46L622.31 755.54M624.19 755.54L622.31 754.46" stroke="#111" stroke-width="0.89" stroke-linecap="round"/>
<path d="M626.75 753.92L626.75 756.08M627.69 754.46L625.81 755.54M627.69 755.54L625.81 754.46" stroke="#111" stroke-width="0.89" stroke-linecap="round"/>
<path d="M630.25 753.92L630.25 756.08M631.19 754.46L629.31 755.54M631.19 755.54L629.31 754.46" stroke="#111" stroke-width="0.89" stroke-linecap="round"/>
<circle cx="649.2" cy="735.5" r="1.15" fill="#000"/>
<text x="659.94" y="737.7" font-size="7.3" fill="#222" textLength="22.83" lengthAdjust="spacingAndGlyphs" stroke="#222" stroke-width="0.15">shCon</text>
<path d="M649.2 747.05L650.35 749.12L648.05 749.12Z" fill="#000"/>
<text x="659.94" y="750.3" font-size="7.3" fill="#222" textLength="23.73" lengthAdjust="spacingAndGlyphs" stroke="#222" stroke-width="0.15">shNrf2</text>
</svg>
</body></html>
